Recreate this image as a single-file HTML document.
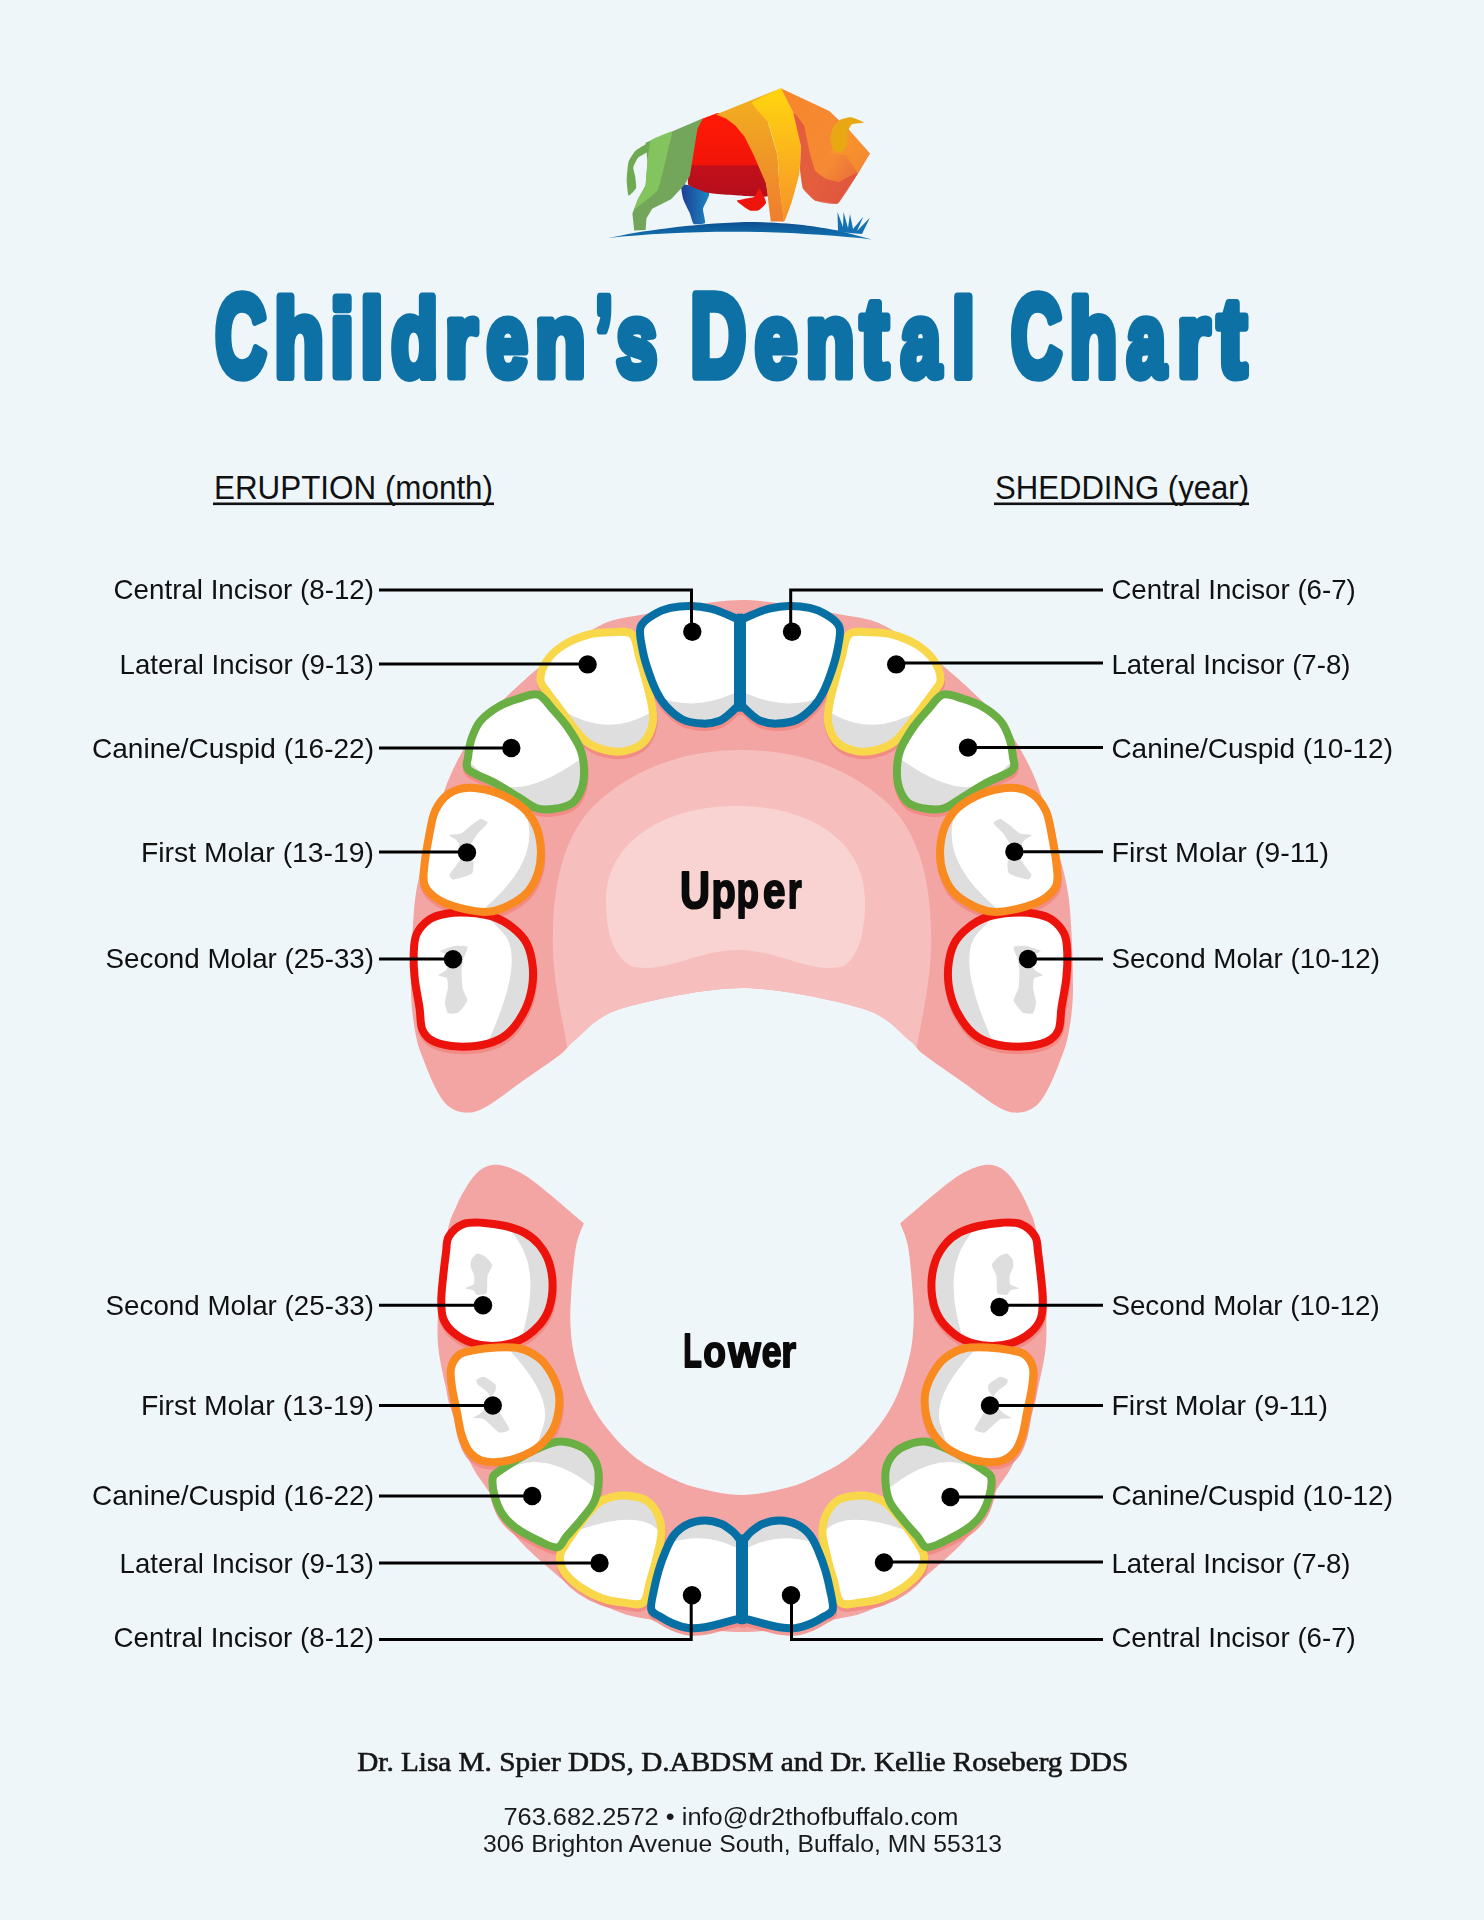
<!DOCTYPE html>
<html><head><meta charset="utf-8"><title>Children's Dental Chart</title>
<style>html,body{margin:0;padding:0;background:#EEF6FA;width:1484px;height:1920px;overflow:hidden}svg{display:block;font-family:"Liberation Sans",sans-serif}</style>
</head><body><svg width="1484" height="1920" viewBox="0 0 1484 1920">
<rect width="1484" height="1920" fill="#EEF6FA"/>
<defs><linearGradient id="gGreen" x1="0" y1="0" x2="1" y2="0"><stop offset="0" stop-color="#86C75E"/><stop offset="1" stop-color="#6E9E57"/></linearGradient><linearGradient id="gRed" x1="0" y1="0" x2="0" y2="1"><stop offset="0" stop-color="#FF1A05"/><stop offset="0.62" stop-color="#F2140A"/><stop offset="0.63" stop-color="#C2101A"/><stop offset="1" stop-color="#B50E1C"/></linearGradient><linearGradient id="gBand1" x1="0" y1="0" x2="0" y2="1"><stop offset="0" stop-color="#F2B21E"/><stop offset="1" stop-color="#EE7E2E"/></linearGradient><linearGradient id="gBand2" x1="0" y1="0" x2="0" y2="1"><stop offset="0" stop-color="#FFD60F"/><stop offset="1" stop-color="#F7922A"/></linearGradient><linearGradient id="gHead" x1="0" y1="0" x2="1" y2="1"><stop offset="0" stop-color="#F7862A"/><stop offset="0.6" stop-color="#F58A34"/><stop offset="1" stop-color="#E0553F"/></linearGradient><linearGradient id="gBlue" x1="0" y1="0" x2="1" y2="0"><stop offset="0" stop-color="#1D3F95"/><stop offset="1" stop-color="#1B86C2"/></linearGradient><linearGradient id="gGround" x1="0" y1="0" x2="0" y2="1"><stop offset="0" stop-color="#0D4F90"/><stop offset="1" stop-color="#1278B6"/></linearGradient></defs>
<path d="M682.0 184.0 C684.1 183.4 707.2 190.6 709.0 192.7 C710.8 194.8 703.3 206.3 703.0 208.8 C702.7 211.3 705.8 221.6 705.0 222.9 C704.2 224.2 695.0 224.7 693.7 223.9 C692.4 223.1 690.8 215.6 689.9 213.5 C689.0 211.4 684.0 201.8 683.3 199.3 C682.6 196.8 679.9 184.6 682.0 184.0Z" fill="url(#gBlue)" />
<path d="M700.0 120.0 C701.1 119.2 716.5 113.1 718.2 113.0 C720.0 112.9 733.3 116.9 735.0 118.0 C736.7 119.1 750.6 132.7 752.0 135.0 C753.4 137.3 761.2 161.9 762.0 165.0 C762.8 168.1 768.9 194.4 768.0 196.0 C767.1 197.6 748.0 196.2 745.0 196.0 C742.0 195.8 711.6 193.6 708.8 193.0 C705.9 192.4 688.8 186.3 688.0 184.2 C687.2 182.0 691.5 152.8 692.0 150.0 C692.5 147.2 696.6 129.5 697.0 128.0 C697.4 126.5 698.9 120.8 700.0 120.0Z" fill="url(#gRed)" />
<path d="M645.6 142.7 L703.1 118.2 L697.5 128.6 L693.7 152.2 L689.9 175.8 L684.2 185.2 L671.0 199.3 L652.2 208.8 L646.5 218.2 L645.6 230.0 L634.2 230.5 L632.4 213.5 L638.0 199.3 L645.6 185.2 L647.5 161.6 L645.6 144.6Z" fill="#73A55A" />
<path d="M651.0 140.5 C652.6 138.5 670.9 131.2 672.0 131.8 C673.1 132.4 668.4 148.0 668.0 150.0 C667.6 152.0 666.1 158.9 665.4 161.6 C664.7 164.3 659.5 187.0 657.8 189.9 C656.1 192.8 641.6 203.7 640.0 205.0 C638.4 206.3 634.1 210.4 634.0 210.0 C633.9 209.6 637.2 200.7 638.0 199.0 C638.8 197.3 645.0 187.7 645.6 185.2 C646.2 182.7 647.1 164.6 647.5 161.6 C647.9 158.6 649.4 142.5 651.0 140.5Z" fill="#84C45E" />
<path d="M649.0 142.7 C648.1 142.6 637.8 148.7 636.1 150.3 C634.4 151.9 629.4 159.1 628.6 161.6 C627.8 164.1 626.7 177.7 626.7 180.5 C626.7 183.3 627.8 195.0 628.6 195.6 C629.4 196.2 635.6 189.6 636.1 188.0 C636.6 186.4 635.4 178.4 635.2 176.7 C635.0 175.0 633.1 168.9 633.3 167.3 C633.5 165.7 636.9 159.1 638.0 157.8 C639.1 156.5 646.1 153.3 647.0 152.0 C647.9 150.7 649.9 142.8 649.0 142.7Z" fill="#6FAA50" />
<path d="M736.9 200.8 C737.3 199.7 752.0 198.0 753.9 197.0 C755.8 196.0 758.5 188.0 759.5 188.5 C760.5 189.0 766.2 200.8 766.1 202.6 C766.0 204.4 760.0 209.6 758.6 210.2 C757.2 210.8 751.0 211.0 749.2 210.2 C747.4 209.4 736.5 201.9 736.9 200.8Z" fill="#F0150C" />
<path d="M716.0 114.4 L780.3 88.5 L768.0 122.5 L777.5 155.5 L779.3 183.8 L784.1 221.5 L770.8 221.5 L766.1 183.8 L753.9 155.5 L744.4 136.6 L735.0 125.3 L726.0 118.5Z" fill="url(#gBand1)" />
<path d="M752.0 102.6 C752.6 100.9 778.8 89.2 780.3 88.5 C781.8 87.8 781.5 88.2 782.2 89.4 C782.9 90.6 792.6 110.2 793.5 113.0 C794.4 115.8 800.7 142.9 801.0 146.0 C801.3 149.1 799.7 171.5 799.2 174.3 C798.7 177.1 792.4 200.2 791.6 202.6 C790.8 205.0 784.7 222.4 784.1 221.5 C783.5 220.6 779.6 187.1 779.3 183.8 C779.0 180.5 778.1 158.6 777.5 155.5 C776.9 152.4 769.3 125.1 768.0 122.5 C766.7 119.9 751.4 104.3 752.0 102.6Z" fill="url(#gBand2)" />
<path d="M781.2 88.5 L829.3 111.1 L848.2 129.1 L869.9 153.6 L857.6 174.3 L837.8 203.6 L815.2 200.8 L802.9 188.5 L800.1 169.6 L801.0 146.0 L793.5 113.0Z" fill="url(#gHead)" />
<path d="M793.5 113.0 C793.3 114.4 800.6 142.3 801.0 146.0 C801.5 149.8 800.0 166.8 800.1 169.6 C800.2 172.5 801.9 186.4 802.9 188.5 C803.9 190.6 812.9 199.7 815.2 200.8 C817.5 201.8 835.0 205.4 837.8 203.6 C840.7 201.7 857.6 174.4 857.6 172.9 C857.7 171.5 841.0 181.5 838.8 181.9 C836.6 182.2 826.2 178.9 824.6 178.1 C823.1 177.4 816.2 172.3 815.2 170.6 C814.2 168.8 810.3 154.7 809.5 151.7 C808.8 148.7 804.9 127.9 803.9 125.3 C802.8 122.7 793.7 111.6 793.5 113.0Z" fill="#DD4F40" opacity="0.75"/>
<path d="M829.3 153.6 L848.2 129.1 L869.9 153.6 L857.6 173.4 L846.3 155.5Z" fill="#FA9A2A" opacity="0.6"/>
<path d="M830.3 138.5 C830.3 136.6 832.2 128.7 833.1 127.2 C834.0 125.6 839.2 120.4 840.7 119.6 C842.2 118.8 849.1 117.0 851.0 117.3 C853.0 117.5 863.7 121.9 863.8 122.5 C863.9 123.0 853.4 123.5 852.0 124.3 C850.6 125.2 847.7 131.1 847.3 132.8 C846.9 134.6 847.8 143.4 847.3 145.1 C846.7 146.7 841.8 152.2 840.7 152.6 C839.5 153.0 834.0 151.0 833.1 149.8 C832.2 148.6 830.3 140.4 830.3 138.5Z" fill="#E8A813" />
<path d="M608.8 238 C640 231 690 224 745 222 C790 222 820 227 840 231 L871.8 239.4 C840 236 800 233 760 232 C700 231 650 233.5 608.8 238Z" fill="url(#gGround)"/>
<path d="M838 232 L837.5 212 L843 227 L843.5 212 L848 228 L850 214 L853 229 L863.3 216.8 L857 231 L869.9 217.7 L862 234Z" fill="#1472B2"/>
<g><text transform="translate(215.35 376.25) scale(0.6189 1.0030)" font-family="Liberation Sans" font-weight="bold" font-size="114.3" fill="#0D71A6" stroke="#0D71A6" stroke-width="8" stroke-linejoin="round" vector-effect="non-scaling-stroke">C</text><text transform="translate(274.31 376.25) scale(0.7123 0.9496)" font-family="Liberation Sans" font-weight="bold" font-size="114.3" fill="#0D71A6" stroke="#0D71A6" stroke-width="8" stroke-linejoin="round" vector-effect="non-scaling-stroke">h</text><text transform="translate(329.89 376.25) scale(0.7652 0.9412)" font-family="Liberation Sans" font-weight="bold" font-size="114.3" fill="#0D71A6" stroke="#0D71A6" stroke-width="8" stroke-linejoin="round" vector-effect="non-scaling-stroke">i</text><text transform="translate(360.15 376.25) scale(0.7333 0.9496)" font-family="Liberation Sans" font-weight="bold" font-size="114.3" fill="#0D71A6" stroke="#0D71A6" stroke-width="8" stroke-linejoin="round" vector-effect="non-scaling-stroke">l</text><text transform="translate(391.37 376.25) scale(0.6684 0.9496)" font-family="Liberation Sans" font-weight="bold" font-size="114.3" fill="#0D71A6" stroke="#0D71A6" stroke-width="8" stroke-linejoin="round" vector-effect="non-scaling-stroke">d</text><text transform="translate(445.04 376.25) scale(0.7241 0.9024)" font-family="Liberation Sans" font-weight="bold" font-size="114.3" fill="#0D71A6" stroke="#0D71A6" stroke-width="8" stroke-linejoin="round" vector-effect="non-scaling-stroke">r</text><text transform="translate(486.63 376.25) scale(0.6432 0.9032)" font-family="Liberation Sans" font-weight="bold" font-size="114.3" fill="#0D71A6" stroke="#0D71A6" stroke-width="8" stroke-linejoin="round" vector-effect="non-scaling-stroke">e</text><text transform="translate(535.04 376.25) scale(0.7247 0.9024)" font-family="Liberation Sans" font-weight="bold" font-size="114.3" fill="#0D71A6" stroke="#0D71A6" stroke-width="8" stroke-linejoin="round" vector-effect="non-scaling-stroke">n</text><text transform="translate(595.20 376.25) scale(0.5542 0.9913)" font-family="Liberation Sans" font-weight="bold" font-size="114.3" fill="#0D71A6" stroke="#0D71A6" stroke-width="8" stroke-linejoin="round" vector-effect="non-scaling-stroke">&#8217;</text><text transform="translate(616.44 376.25) scale(0.6380 0.9024)" font-family="Liberation Sans" font-weight="bold" font-size="114.3" fill="#0D71A6" stroke="#0D71A6" stroke-width="8" stroke-linejoin="round" vector-effect="non-scaling-stroke">s</text><text transform="translate(690.32 376.25) scale(0.6776 1.0142)" font-family="Liberation Sans" font-weight="bold" font-size="114.3" fill="#0D71A6" stroke="#0D71A6" stroke-width="8" stroke-linejoin="round" vector-effect="non-scaling-stroke">D</text><text transform="translate(755.05 376.25) scale(0.6613 0.9032)" font-family="Liberation Sans" font-weight="bold" font-size="114.3" fill="#0D71A6" stroke="#0D71A6" stroke-width="8" stroke-linejoin="round" vector-effect="non-scaling-stroke">e</text><text transform="translate(805.74 376.25) scale(0.6975 0.9024)" font-family="Liberation Sans" font-weight="bold" font-size="114.3" fill="#0D71A6" stroke="#0D71A6" stroke-width="8" stroke-linejoin="round" vector-effect="non-scaling-stroke">n</text><text transform="translate(860.47 376.25) scale(0.7371 0.9784)" font-family="Liberation Sans" font-weight="bold" font-size="114.3" fill="#0D71A6" stroke="#0D71A6" stroke-width="8" stroke-linejoin="round" vector-effect="non-scaling-stroke">t</text><text transform="translate(900.91 376.25) scale(0.6235 0.9032)" font-family="Liberation Sans" font-weight="bold" font-size="114.3" fill="#0D71A6" stroke="#0D71A6" stroke-width="8" stroke-linejoin="round" vector-effect="non-scaling-stroke">a</text><text transform="translate(951.65 376.25) scale(0.7333 0.9496)" font-family="Liberation Sans" font-weight="bold" font-size="114.3" fill="#0D71A6" stroke="#0D71A6" stroke-width="8" stroke-linejoin="round" vector-effect="non-scaling-stroke">l</text><text transform="translate(1011.11 376.25) scale(0.6155 0.9993)" font-family="Liberation Sans" font-weight="bold" font-size="114.3" fill="#0D71A6" stroke="#0D71A6" stroke-width="8" stroke-linejoin="round" vector-effect="non-scaling-stroke">C</text><text transform="translate(1069.53 376.25) scale(0.6849 0.9496)" font-family="Liberation Sans" font-weight="bold" font-size="114.3" fill="#0D71A6" stroke="#0D71A6" stroke-width="8" stroke-linejoin="round" vector-effect="non-scaling-stroke">h</text><text transform="translate(1126.97 376.25) scale(0.6071 0.9032)" font-family="Liberation Sans" font-weight="bold" font-size="114.3" fill="#0D71A6" stroke="#0D71A6" stroke-width="8" stroke-linejoin="round" vector-effect="non-scaling-stroke">a</text><text transform="translate(1176.94 376.25) scale(0.7383 0.9024)" font-family="Liberation Sans" font-weight="bold" font-size="114.3" fill="#0D71A6" stroke="#0D71A6" stroke-width="8" stroke-linejoin="round" vector-effect="non-scaling-stroke">r</text><text transform="translate(1217.43 376.25) scale(0.7655 0.9784)" font-family="Liberation Sans" font-weight="bold" font-size="114.3" fill="#0D71A6" stroke="#0D71A6" stroke-width="8" stroke-linejoin="round" vector-effect="non-scaling-stroke">t</text></g>
<text x="214" y="499" font-family="Liberation Sans" font-size="33" font-weight="normal" fill="#111" text-anchor="start" textLength="279" lengthAdjust="spacingAndGlyphs" >ERUPTION (month)</text>
<rect x="213" y="502.5" width="281" height="2.6" fill="#111"/>
<text x="995" y="499" font-family="Liberation Sans" font-size="33" font-weight="normal" fill="#111" text-anchor="start" textLength="254" lengthAdjust="spacingAndGlyphs" >SHEDDING (year)</text>
<rect x="994" y="502.5" width="255" height="2.6" fill="#111"/>
<clipPath id="upclip"><path d="M742.0 600.0 C711.4 600.0 661.5 611.1 640.0 615.0 C618.5 618.9 613.7 618.5 599.0 626.0 C584.3 633.5 558.2 652.1 542.0 665.0 C525.8 677.9 502.1 700.5 491.0 712.0 C479.9 723.5 474.4 731.6 468.0 742.0 C461.6 752.4 453.9 766.3 448.0 781.0 C442.1 795.7 433.9 822.1 429.0 840.0 C424.1 857.9 417.7 877.5 415.0 900.0 C412.3 922.5 410.9 969.6 411.0 990.0 C411.1 1010.4 414.1 1025.3 416.0 1036.0 C417.9 1046.7 421.3 1053.7 424.0 1061.0 C426.7 1068.3 430.9 1078.7 434.0 1085.0 C437.1 1091.3 441.6 1099.1 445.0 1103.0 C448.4 1106.9 453.4 1109.6 457.0 1111.0 C460.6 1112.4 465.4 1112.8 469.0 1112.6 C472.6 1112.4 476.8 1111.3 481.0 1109.4 C485.2 1107.5 491.1 1103.7 497.0 1099.7 C502.9 1095.7 510.4 1089.9 520.0 1083.0 C529.6 1076.1 552.8 1060.5 561.0 1054.0 C569.2 1047.5 566.1 1046.8 575.0 1040.0 C583.9 1033.2 595.0 1016.8 620.0 1009.0 C645.0 1001.2 705.4 988.0 742.0 988.0 C778.6 988.0 839.0 1001.2 864.0 1009.0 C889.0 1016.8 900.1 1033.2 909.0 1040.0 C917.9 1046.8 914.8 1047.5 923.0 1054.0 C931.2 1060.5 954.4 1076.1 964.0 1083.0 C973.6 1089.9 981.1 1095.7 987.0 1099.7 C992.9 1103.7 998.8 1107.5 1003.0 1109.4 C1007.2 1111.3 1011.4 1112.4 1015.0 1112.6 C1018.6 1112.8 1023.4 1112.4 1027.0 1111.0 C1030.6 1109.6 1035.5 1106.9 1039.0 1103.0 C1042.5 1099.1 1046.8 1091.3 1050.0 1085.0 C1053.2 1078.7 1057.3 1068.3 1060.0 1061.0 C1062.7 1053.7 1066.0 1046.7 1068.0 1036.0 C1070.0 1025.3 1072.8 1010.4 1073.0 990.0 C1073.2 969.6 1071.7 922.5 1069.0 900.0 C1066.3 877.5 1060.0 857.9 1055.0 840.0 C1050.0 822.1 1041.8 795.7 1036.0 781.0 C1030.2 766.3 1022.5 752.4 1016.0 742.0 C1009.5 731.6 1004.1 723.5 993.0 712.0 C981.9 700.5 958.2 677.9 942.0 665.0 C925.8 652.1 899.7 633.5 885.0 626.0 C870.3 618.5 865.5 618.9 844.0 615.0 C822.5 611.1 772.6 600.0 742.0 600.0Z"/></clipPath>
<path d="M742.0 600.0 C711.4 600.0 661.5 611.1 640.0 615.0 C618.5 618.9 613.7 618.5 599.0 626.0 C584.3 633.5 558.2 652.1 542.0 665.0 C525.8 677.9 502.1 700.5 491.0 712.0 C479.9 723.5 474.4 731.6 468.0 742.0 C461.6 752.4 453.9 766.3 448.0 781.0 C442.1 795.7 433.9 822.1 429.0 840.0 C424.1 857.9 417.7 877.5 415.0 900.0 C412.3 922.5 410.9 969.6 411.0 990.0 C411.1 1010.4 414.1 1025.3 416.0 1036.0 C417.9 1046.7 421.3 1053.7 424.0 1061.0 C426.7 1068.3 430.9 1078.7 434.0 1085.0 C437.1 1091.3 441.6 1099.1 445.0 1103.0 C448.4 1106.9 453.4 1109.6 457.0 1111.0 C460.6 1112.4 465.4 1112.8 469.0 1112.6 C472.6 1112.4 476.8 1111.3 481.0 1109.4 C485.2 1107.5 491.1 1103.7 497.0 1099.7 C502.9 1095.7 510.4 1089.9 520.0 1083.0 C529.6 1076.1 552.8 1060.5 561.0 1054.0 C569.2 1047.5 566.1 1046.8 575.0 1040.0 C583.9 1033.2 595.0 1016.8 620.0 1009.0 C645.0 1001.2 705.4 988.0 742.0 988.0 C778.6 988.0 839.0 1001.2 864.0 1009.0 C889.0 1016.8 900.1 1033.2 909.0 1040.0 C917.9 1046.8 914.8 1047.5 923.0 1054.0 C931.2 1060.5 954.4 1076.1 964.0 1083.0 C973.6 1089.9 981.1 1095.7 987.0 1099.7 C992.9 1103.7 998.8 1107.5 1003.0 1109.4 C1007.2 1111.3 1011.4 1112.4 1015.0 1112.6 C1018.6 1112.8 1023.4 1112.4 1027.0 1111.0 C1030.6 1109.6 1035.5 1106.9 1039.0 1103.0 C1042.5 1099.1 1046.8 1091.3 1050.0 1085.0 C1053.2 1078.7 1057.3 1068.3 1060.0 1061.0 C1062.7 1053.7 1066.0 1046.7 1068.0 1036.0 C1070.0 1025.3 1072.8 1010.4 1073.0 990.0 C1073.2 969.6 1071.7 922.5 1069.0 900.0 C1066.3 877.5 1060.0 857.9 1055.0 840.0 C1050.0 822.1 1041.8 795.7 1036.0 781.0 C1030.2 766.3 1022.5 752.4 1016.0 742.0 C1009.5 731.6 1004.1 723.5 993.0 712.0 C981.9 700.5 958.2 677.9 942.0 665.0 C925.8 652.1 899.7 633.5 885.0 626.0 C870.3 618.5 865.5 618.9 844.0 615.0 C822.5 611.1 772.6 600.0 742.0 600.0Z" fill="#F3A5A3"/>
<g clip-path="url(#upclip)">
<path d="M575 1100 L566 1040 C555 985 552 960 553 930 C554 880 565 830 600 800 C640 765 690 750 742 750 C794 750 844 765 884 800 C919 830 930 880 931 930 C932 960 929 985 918 1040 L909 1100Z" fill="#F6BFBE"/>
</g>
<path d="M631 966 C612 955 606 930 606 900 C606 845 660 806 737 806 C815 806 865 845 865 900 C865 930 860 955 844 966 C810 975 780 950 738 950 C695 950 665 975 631 966 Z" fill="#F8D3D2"/>
<g opacity="0.8"><path d="M631.9 634.2 C636.8 638.4 637.1 649.9 639.4 657.7 C641.8 665.6 644.0 673.5 646.0 681.3 C648.1 689.2 650.6 697.8 651.7 704.9 C652.8 712.0 654.1 717.5 652.6 723.8 C651.2 730.1 647.9 738.1 643.2 742.6 C638.5 747.2 630.6 749.9 624.3 751.1 C618.1 752.4 611.8 751.8 605.5 750.2 C599.2 748.6 592.1 745.8 586.6 741.7 C581.1 737.6 577.2 731.5 572.5 725.7 C567.7 719.8 562.5 712.5 558.3 706.8 C554.1 701.1 550.0 696.3 547.0 691.7 C544.0 687.1 540.4 684.6 540.4 679.4 C540.4 674.2 543.2 666.2 547.0 660.6 C550.8 654.9 556.4 649.7 563.0 645.5 C569.6 641.2 578.7 637.3 586.6 635.1 C594.5 632.9 602.6 632.4 610.2 632.3 C617.7 632.1 627.0 629.9 631.9 634.2Z" fill="#F2857D" stroke="#F2857D" stroke-width="8" transform="translate(0.5 3.5)"/><path d="M640.5 627.3 C642.4 621.1 649.3 617.6 654.3 614.4 C659.2 611.2 664.2 609.4 670.4 607.9 C676.6 606.5 684.7 605.8 691.5 605.9 C698.2 606.1 704.9 607.3 710.9 608.7 C716.8 610.2 722.5 612.7 727.0 614.4 C731.6 616.2 736.2 618.4 738.0 619.3 C739.9 620.1 738.0 615.2 738.0 619.3 C738.0 623.3 738.0 634.1 738.0 643.5 C738.0 652.9 738.0 665.5 738.0 675.9 C738.0 686.2 738.0 700.8 738.0 705.8 C738.0 710.8 739.5 704.4 738.0 705.8 C736.6 707.1 732.6 711.3 729.5 713.9 C726.3 716.4 723.4 719.5 718.9 721.1 C714.5 722.8 708.8 723.8 702.8 723.6 C696.7 723.3 688.6 722.4 682.6 719.5 C676.5 716.7 670.7 711.2 666.4 706.6 C662.1 702.0 659.6 697.8 656.7 692.0 C653.7 686.2 650.9 678.6 648.6 671.8 C646.3 665.1 644.3 659.0 642.9 651.6 C641.6 644.2 638.6 633.5 640.5 627.3Z" fill="#F2857D" stroke="#F2857D" stroke-width="8" transform="translate(0.5 3.5)"/><path d="M538.1 694.7 C543.8 696.4 547.8 703.9 552.7 709.3 C557.6 714.7 562.8 720.4 567.4 726.9 C571.9 733.4 577.3 741.6 580.1 748.4 C582.8 755.2 583.7 761.4 584.0 767.9 C584.3 774.5 584.0 781.6 582.0 787.5 C580.1 793.3 577.1 799.5 572.3 803.1 C567.4 806.7 558.7 808.2 552.7 809.0 C546.7 809.8 541.8 810.0 536.1 808.0 C530.4 806.1 525.5 801.5 518.5 797.3 C511.5 793.0 502.4 787.2 494.1 782.6 C485.8 778.0 473.0 774.3 468.7 769.9 C464.4 765.5 467.7 761.4 468.2 756.2 C468.7 751.0 469.6 744.5 471.6 738.6 C473.6 732.8 475.8 726.4 480.4 721.0 C485.0 715.7 492.6 710.1 499.0 706.4 C505.3 702.6 512.0 700.5 518.5 698.6 C525.0 696.6 532.4 692.9 538.1 694.7Z" fill="#F2857D" stroke="#F2857D" stroke-width="8" transform="translate(0.5 3.5)"/><path d="M468.4 912.7 C476.2 913.2 485.5 914.2 492.8 916.6 C500.2 919.1 506.7 922.8 512.4 927.4 C518.1 931.9 523.6 937.1 527.0 944.0 C530.4 950.8 532.2 960.3 532.9 968.4 C533.5 976.5 532.7 985.0 530.9 992.8 C529.1 1000.6 526.1 1008.5 522.1 1015.3 C518.2 1022.1 513.2 1029.1 507.5 1033.9 C501.8 1038.6 496.1 1041.5 487.9 1043.6 C479.8 1045.8 467.6 1046.9 458.6 1046.6 C449.7 1046.2 440.2 1044.5 434.2 1041.7 C428.2 1038.9 424.9 1035.7 422.5 1030.0 C420.0 1024.3 420.8 1016.1 419.5 1007.5 C418.2 998.9 415.6 987.1 414.7 978.2 C413.7 969.2 413.4 961.1 413.7 953.7 C414.0 946.4 414.0 939.9 416.6 934.2 C419.2 928.5 424.4 923.0 429.3 919.5 C434.2 916.1 439.4 914.8 445.9 913.7 C452.4 912.5 460.6 912.2 468.4 912.7Z" fill="#F2857D" stroke="#F2857D" stroke-width="8" transform="translate(0.5 3.5)"/><path d="M468.6 787.7 C476.0 787.4 485.7 789.5 493.1 791.6 C500.4 793.7 506.9 797.0 512.6 800.4 C518.3 803.8 523.2 807.4 527.3 812.1 C531.3 816.9 534.7 822.2 537.0 828.7 C539.3 835.3 540.8 843.9 540.9 851.2 C541.1 858.5 540.3 865.9 538.0 872.7 C535.7 879.6 532.3 886.7 527.3 892.3 C522.2 897.8 514.2 902.7 507.7 905.9 C501.2 909.2 495.5 911.3 488.2 911.8 C480.8 912.3 471.9 910.8 463.7 908.9 C455.6 906.9 445.8 904.0 439.3 900.1 C432.8 896.2 427.1 891.6 424.7 885.4 C422.2 879.2 423.8 871.6 424.7 862.9 C425.5 854.3 427.8 842.4 429.5 833.6 C431.3 824.8 432.1 816.9 435.4 810.2 C438.7 803.5 443.5 797.3 449.1 793.6 C454.6 789.8 461.3 788.0 468.6 787.7Z" fill="#F2857D" stroke="#F2857D" stroke-width="8" transform="translate(0.5 3.5)"/><path d="M870.8 632.3 C878.4 632.4 886.5 632.9 894.4 635.1 C902.3 637.3 911.4 641.2 918.0 645.5 C924.6 649.7 930.2 654.9 934.0 660.6 C937.8 666.2 940.6 674.2 940.6 679.4 C940.6 684.6 937.0 687.1 934.0 691.7 C931.0 696.3 926.9 701.1 922.7 706.8 C918.5 712.5 913.3 719.8 908.5 725.7 C903.8 731.5 899.9 737.6 894.4 741.7 C888.9 745.8 881.8 748.6 875.5 750.2 C869.2 751.8 862.9 752.4 856.7 751.1 C850.4 749.9 842.5 747.2 837.8 742.6 C833.1 738.1 829.8 730.1 828.4 723.8 C826.9 717.5 828.2 712.0 829.3 704.9 C830.4 697.8 832.9 689.2 835.0 681.3 C837.0 673.5 839.2 665.6 841.6 657.7 C843.9 649.9 844.2 638.4 849.1 634.2 C854.0 629.9 863.3 632.1 870.8 632.3Z" fill="#F2857D" stroke="#F2857D" stroke-width="8" transform="translate(0.5 3.5)"/><path d="M837.1 651.6 C835.7 659.0 833.7 665.1 831.4 671.8 C829.1 678.6 826.3 686.2 823.3 692.0 C820.4 697.8 817.9 702.0 813.6 706.6 C809.3 711.2 803.5 716.7 797.4 719.5 C791.4 722.4 783.3 723.3 777.2 723.6 C771.2 723.8 765.5 722.8 761.1 721.1 C756.6 719.5 753.7 716.4 750.5 713.9 C747.4 711.3 743.4 707.1 742.0 705.8 C740.5 704.4 742.0 710.8 742.0 705.8 C742.0 700.8 742.0 686.2 742.0 675.9 C742.0 665.5 742.0 652.9 742.0 643.5 C742.0 634.1 742.0 623.3 742.0 619.3 C742.0 615.2 740.1 620.1 742.0 619.3 C743.8 618.4 748.4 616.2 753.0 614.4 C757.5 612.7 763.2 610.2 769.1 608.7 C775.1 607.3 781.8 606.1 788.5 605.9 C795.3 605.8 803.4 606.5 809.6 607.9 C815.8 609.4 820.8 611.2 825.7 614.4 C830.7 617.6 837.6 621.1 839.5 627.3 C841.4 633.5 838.4 644.2 837.1 651.6Z" fill="#F2857D" stroke="#F2857D" stroke-width="8" transform="translate(0.5 3.5)"/><path d="M962.5 698.6 C969.0 700.5 975.7 702.6 982.0 706.4 C988.4 710.1 996.0 715.7 1000.6 721.0 C1005.2 726.4 1007.4 732.8 1009.4 738.6 C1011.4 744.5 1012.3 751.0 1012.8 756.2 C1013.3 761.4 1016.6 765.5 1012.3 769.9 C1008.0 774.3 995.2 778.0 986.9 782.6 C978.6 787.2 969.5 793.0 962.5 797.3 C955.5 801.5 950.6 806.1 944.9 808.0 C939.2 810.0 934.3 809.8 928.3 809.0 C922.3 808.2 913.6 806.7 908.7 803.1 C903.9 799.5 900.9 793.3 899.0 787.5 C897.0 781.6 896.7 774.5 897.0 767.9 C897.3 761.4 898.2 755.2 900.9 748.4 C903.7 741.6 909.1 733.4 913.6 726.9 C918.2 720.4 923.4 714.7 928.3 709.3 C933.2 703.9 937.2 696.4 942.9 694.7 C948.6 692.9 956.0 696.6 962.5 698.6Z" fill="#F2857D" stroke="#F2857D" stroke-width="8" transform="translate(0.5 3.5)"/><path d="M1035.1 913.7 C1041.6 914.8 1046.8 916.1 1051.7 919.5 C1056.6 923.0 1061.8 928.5 1064.4 934.2 C1067.0 939.9 1067.0 946.4 1067.3 953.7 C1067.6 961.1 1067.3 969.2 1066.3 978.2 C1065.4 987.1 1062.8 998.9 1061.5 1007.5 C1060.2 1016.1 1061.0 1024.3 1058.5 1030.0 C1056.1 1035.7 1052.8 1038.9 1046.8 1041.7 C1040.8 1044.5 1031.3 1046.2 1022.4 1046.6 C1013.4 1046.9 1001.2 1045.8 993.1 1043.6 C984.9 1041.5 979.2 1038.6 973.5 1033.9 C967.8 1029.1 962.8 1022.1 958.9 1015.3 C954.9 1008.5 951.9 1000.6 950.1 992.8 C948.3 985.0 947.5 976.5 948.1 968.4 C948.8 960.3 950.6 950.8 954.0 944.0 C957.4 937.1 962.9 931.9 968.6 927.4 C974.3 922.8 980.8 919.1 988.2 916.6 C995.5 914.2 1004.8 913.2 1012.6 912.7 C1020.4 912.2 1028.6 912.5 1035.1 913.7Z" fill="#F2857D" stroke="#F2857D" stroke-width="8" transform="translate(0.5 3.5)"/><path d="M1031.9 793.6 C1037.5 797.3 1042.3 803.5 1045.6 810.2 C1048.9 816.9 1049.7 824.8 1051.5 833.6 C1053.2 842.4 1055.5 854.3 1056.3 862.9 C1057.2 871.6 1058.8 879.2 1056.3 885.4 C1053.9 891.6 1048.2 896.2 1041.7 900.1 C1035.2 904.0 1025.4 906.9 1017.3 908.9 C1009.1 910.8 1000.2 912.3 992.8 911.8 C985.5 911.3 979.8 909.2 973.3 905.9 C966.8 902.7 958.8 897.8 953.7 892.3 C948.7 886.7 945.3 879.6 943.0 872.7 C940.7 865.9 939.9 858.5 940.1 851.2 C940.2 843.9 941.7 835.3 944.0 828.7 C946.3 822.2 949.7 816.9 953.7 812.1 C957.8 807.4 962.7 803.8 968.4 800.4 C974.1 797.0 980.6 793.7 987.9 791.6 C995.3 789.5 1005.0 787.4 1012.4 787.7 C1019.7 788.0 1026.4 789.8 1031.9 793.6Z" fill="#F2857D" stroke="#F2857D" stroke-width="8" transform="translate(0.5 3.5)"/></g>
<clipPath id="c1"><path d="M631.9 634.2 C636.8 638.4 637.1 649.9 639.4 657.7 C641.8 665.6 644.0 673.5 646.0 681.3 C648.1 689.2 650.6 697.8 651.7 704.9 C652.8 712.0 654.1 717.5 652.6 723.8 C651.2 730.1 647.9 738.1 643.2 742.6 C638.5 747.2 630.6 749.9 624.3 751.1 C618.1 752.4 611.8 751.8 605.5 750.2 C599.2 748.6 592.1 745.8 586.6 741.7 C581.1 737.6 577.2 731.5 572.5 725.7 C567.7 719.8 562.5 712.5 558.3 706.8 C554.1 701.1 550.0 696.3 547.0 691.7 C544.0 687.1 540.4 684.6 540.4 679.4 C540.4 674.2 543.2 666.2 547.0 660.6 C550.8 654.9 556.4 649.7 563.0 645.5 C569.6 641.2 578.7 637.3 586.6 635.1 C594.5 632.9 602.6 632.4 610.2 632.3 C617.7 632.1 627.0 629.9 631.9 634.2Z"/></clipPath>
<path d="M631.9 634.2 C636.8 638.4 637.1 649.9 639.4 657.7 C641.8 665.6 644.0 673.5 646.0 681.3 C648.1 689.2 650.6 697.8 651.7 704.9 C652.8 712.0 654.1 717.5 652.6 723.8 C651.2 730.1 647.9 738.1 643.2 742.6 C638.5 747.2 630.6 749.9 624.3 751.1 C618.1 752.4 611.8 751.8 605.5 750.2 C599.2 748.6 592.1 745.8 586.6 741.7 C581.1 737.6 577.2 731.5 572.5 725.7 C567.7 719.8 562.5 712.5 558.3 706.8 C554.1 701.1 550.0 696.3 547.0 691.7 C544.0 687.1 540.4 684.6 540.4 679.4 C540.4 674.2 543.2 666.2 547.0 660.6 C550.8 654.9 556.4 649.7 563.0 645.5 C569.6 641.2 578.7 637.3 586.6 635.1 C594.5 632.9 602.6 632.4 610.2 632.3 C617.7 632.1 627.0 629.9 631.9 634.2Z" fill="#fff"/>
<g clip-path="url(#c1)">
<path d="M527.3 688.3 L561.1 709.6 Q606.0 737.9 648.9 713.4 L683.6 693.6 L683.6 793.6 L527.3 788.3 Z" fill="#DEDEDE"/>
</g>
<path d="M631.9 634.2 C636.8 638.4 637.1 649.9 639.4 657.7 C641.8 665.6 644.0 673.5 646.0 681.3 C648.1 689.2 650.6 697.8 651.7 704.9 C652.8 712.0 654.1 717.5 652.6 723.8 C651.2 730.1 647.9 738.1 643.2 742.6 C638.5 747.2 630.6 749.9 624.3 751.1 C618.1 752.4 611.8 751.8 605.5 750.2 C599.2 748.6 592.1 745.8 586.6 741.7 C581.1 737.6 577.2 731.5 572.5 725.7 C567.7 719.8 562.5 712.5 558.3 706.8 C554.1 701.1 550.0 696.3 547.0 691.7 C544.0 687.1 540.4 684.6 540.4 679.4 C540.4 674.2 543.2 666.2 547.0 660.6 C550.8 654.9 556.4 649.7 563.0 645.5 C569.6 641.2 578.7 637.3 586.6 635.1 C594.5 632.9 602.6 632.4 610.2 632.3 C617.7 632.1 627.0 629.9 631.9 634.2Z" fill="none" stroke="#F8D84A" stroke-width="8" stroke-linejoin="round"/>
<clipPath id="c2"><path d="M640.5 627.3 C642.4 621.1 649.3 617.6 654.3 614.4 C659.2 611.2 664.2 609.4 670.4 607.9 C676.6 606.5 684.7 605.8 691.5 605.9 C698.2 606.1 704.9 607.3 710.9 608.7 C716.8 610.2 722.5 612.7 727.0 614.4 C731.6 616.2 736.2 618.4 738.0 619.3 C739.9 620.1 738.0 615.2 738.0 619.3 C738.0 623.3 738.0 634.1 738.0 643.5 C738.0 652.9 738.0 665.5 738.0 675.9 C738.0 686.2 738.0 700.8 738.0 705.8 C738.0 710.8 739.5 704.4 738.0 705.8 C736.6 707.1 732.6 711.3 729.5 713.9 C726.3 716.4 723.4 719.5 718.9 721.1 C714.5 722.8 708.8 723.8 702.8 723.6 C696.7 723.3 688.6 722.4 682.6 719.5 C676.5 716.7 670.7 711.2 666.4 706.6 C662.1 702.0 659.6 697.8 656.7 692.0 C653.7 686.2 650.9 678.6 648.6 671.8 C646.3 665.1 644.3 659.0 642.9 651.6 C641.6 644.2 638.6 633.5 640.5 627.3Z"/></clipPath>
<path d="M640.5 627.3 C642.4 621.1 649.3 617.6 654.3 614.4 C659.2 611.2 664.2 609.4 670.4 607.9 C676.6 606.5 684.7 605.8 691.5 605.9 C698.2 606.1 704.9 607.3 710.9 608.7 C716.8 610.2 722.5 612.7 727.0 614.4 C731.6 616.2 736.2 618.4 738.0 619.3 C739.9 620.1 738.0 615.2 738.0 619.3 C738.0 623.3 738.0 634.1 738.0 643.5 C738.0 652.9 738.0 665.5 738.0 675.9 C738.0 686.2 738.0 700.8 738.0 705.8 C738.0 710.8 739.5 704.4 738.0 705.8 C736.6 707.1 732.6 711.3 729.5 713.9 C726.3 716.4 723.4 719.5 718.9 721.1 C714.5 722.8 708.8 723.8 702.8 723.6 C696.7 723.3 688.6 722.4 682.6 719.5 C676.5 716.7 670.7 711.2 666.4 706.6 C662.1 702.0 659.6 697.8 656.7 692.0 C653.7 686.2 650.9 678.6 648.6 671.8 C646.3 665.1 644.3 659.0 642.9 651.6 C641.6 644.2 638.6 633.5 640.5 627.3Z" fill="#fff"/>
<g clip-path="url(#c2)">
<path d="M624.1 685.7 L662.0 698.5 Q696.0 710.0 731.0 694.5 L767.6 678.3 L767.6 778.3 L624.1 785.7 Z" fill="#DEDEDE"/>
</g>
<path d="M640.5 627.3 C642.4 621.1 649.3 617.6 654.3 614.4 C659.2 611.2 664.2 609.4 670.4 607.9 C676.6 606.5 684.7 605.8 691.5 605.9 C698.2 606.1 704.9 607.3 710.9 608.7 C716.8 610.2 722.5 612.7 727.0 614.4 C731.6 616.2 736.2 618.4 738.0 619.3 C739.9 620.1 738.0 615.2 738.0 619.3 C738.0 623.3 738.0 634.1 738.0 643.5 C738.0 652.9 738.0 665.5 738.0 675.9 C738.0 686.2 738.0 700.8 738.0 705.8 C738.0 710.8 739.5 704.4 738.0 705.8 C736.6 707.1 732.6 711.3 729.5 713.9 C726.3 716.4 723.4 719.5 718.9 721.1 C714.5 722.8 708.8 723.8 702.8 723.6 C696.7 723.3 688.6 722.4 682.6 719.5 C676.5 716.7 670.7 711.2 666.4 706.6 C662.1 702.0 659.6 697.8 656.7 692.0 C653.7 686.2 650.9 678.6 648.6 671.8 C646.3 665.1 644.3 659.0 642.9 651.6 C641.6 644.2 638.6 633.5 640.5 627.3Z" fill="none" stroke="#0670A4" stroke-width="8" stroke-linejoin="round"/>
<clipPath id="c3"><path d="M538.1 694.7 C543.8 696.4 547.8 703.9 552.7 709.3 C557.6 714.7 562.8 720.4 567.4 726.9 C571.9 733.4 577.3 741.6 580.1 748.4 C582.8 755.2 583.7 761.4 584.0 767.9 C584.3 774.5 584.0 781.6 582.0 787.5 C580.1 793.3 577.1 799.5 572.3 803.1 C567.4 806.7 558.7 808.2 552.7 809.0 C546.7 809.8 541.8 810.0 536.1 808.0 C530.4 806.1 525.5 801.5 518.5 797.3 C511.5 793.0 502.4 787.2 494.1 782.6 C485.8 778.0 473.0 774.3 468.7 769.9 C464.4 765.5 467.7 761.4 468.2 756.2 C468.7 751.0 469.6 744.5 471.6 738.6 C473.6 732.8 475.8 726.4 480.4 721.0 C485.0 715.7 492.6 710.1 499.0 706.4 C505.3 702.6 512.0 700.5 518.5 698.6 C525.0 696.6 532.4 692.9 538.1 694.7Z"/></clipPath>
<path d="M538.1 694.7 C543.8 696.4 547.8 703.9 552.7 709.3 C557.6 714.7 562.8 720.4 567.4 726.9 C571.9 733.4 577.3 741.6 580.1 748.4 C582.8 755.2 583.7 761.4 584.0 767.9 C584.3 774.5 584.0 781.6 582.0 787.5 C580.1 793.3 577.1 799.5 572.3 803.1 C567.4 806.7 558.7 808.2 552.7 809.0 C546.7 809.8 541.8 810.0 536.1 808.0 C530.4 806.1 525.5 801.5 518.5 797.3 C511.5 793.0 502.4 787.2 494.1 782.6 C485.8 778.0 473.0 774.3 468.7 769.9 C464.4 765.5 467.7 761.4 468.2 756.2 C468.7 751.0 469.6 744.5 471.6 738.6 C473.6 732.8 475.8 726.4 480.4 721.0 C485.0 715.7 492.6 710.1 499.0 706.4 C505.3 702.6 512.0 700.5 518.5 698.6 C525.0 696.6 532.4 692.9 538.1 694.7Z" fill="#fff"/>
<g clip-path="url(#c3)">
<path d="M455.3 748.3 L484.3 775.8 Q515.1 805.0 579.1 760.1 L611.8 737.1 L611.8 837.1 L455.3 848.3 Z" fill="#DEDEDE"/>
</g>
<path d="M538.1 694.7 C543.8 696.4 547.8 703.9 552.7 709.3 C557.6 714.7 562.8 720.4 567.4 726.9 C571.9 733.4 577.3 741.6 580.1 748.4 C582.8 755.2 583.7 761.4 584.0 767.9 C584.3 774.5 584.0 781.6 582.0 787.5 C580.1 793.3 577.1 799.5 572.3 803.1 C567.4 806.7 558.7 808.2 552.7 809.0 C546.7 809.8 541.8 810.0 536.1 808.0 C530.4 806.1 525.5 801.5 518.5 797.3 C511.5 793.0 502.4 787.2 494.1 782.6 C485.8 778.0 473.0 774.3 468.7 769.9 C464.4 765.5 467.7 761.4 468.2 756.2 C468.7 751.0 469.6 744.5 471.6 738.6 C473.6 732.8 475.8 726.4 480.4 721.0 C485.0 715.7 492.6 710.1 499.0 706.4 C505.3 702.6 512.0 700.5 518.5 698.6 C525.0 696.6 532.4 692.9 538.1 694.7Z" fill="none" stroke="#6AAF44" stroke-width="8" stroke-linejoin="round"/>
<clipPath id="c4"><path d="M468.4 912.7 C476.2 913.2 485.5 914.2 492.8 916.6 C500.2 919.1 506.7 922.8 512.4 927.4 C518.1 931.9 523.6 937.1 527.0 944.0 C530.4 950.8 532.2 960.3 532.9 968.4 C533.5 976.5 532.7 985.0 530.9 992.8 C529.1 1000.6 526.1 1008.5 522.1 1015.3 C518.2 1022.1 513.2 1029.1 507.5 1033.9 C501.8 1038.6 496.1 1041.5 487.9 1043.6 C479.8 1045.8 467.6 1046.9 458.6 1046.6 C449.7 1046.2 440.2 1044.5 434.2 1041.7 C428.2 1038.9 424.9 1035.7 422.5 1030.0 C420.0 1024.3 420.8 1016.1 419.5 1007.5 C418.2 998.9 415.6 987.1 414.7 978.2 C413.7 969.2 413.4 961.1 413.7 953.7 C414.0 946.4 414.0 939.9 416.6 934.2 C419.2 928.5 424.4 923.0 429.3 919.5 C434.2 916.1 439.4 914.8 445.9 913.7 C452.4 912.5 460.6 912.2 468.4 912.7Z"/></clipPath>
<path d="M468.4 912.7 C476.2 913.2 485.5 914.2 492.8 916.6 C500.2 919.1 506.7 922.8 512.4 927.4 C518.1 931.9 523.6 937.1 527.0 944.0 C530.4 950.8 532.2 960.3 532.9 968.4 C533.5 976.5 532.7 985.0 530.9 992.8 C529.1 1000.6 526.1 1008.5 522.1 1015.3 C518.2 1022.1 513.2 1029.1 507.5 1033.9 C501.8 1038.6 496.1 1041.5 487.9 1043.6 C479.8 1045.8 467.6 1046.9 458.6 1046.6 C449.7 1046.2 440.2 1044.5 434.2 1041.7 C428.2 1038.9 424.9 1035.7 422.5 1030.0 C420.0 1024.3 420.8 1016.1 419.5 1007.5 C418.2 998.9 415.6 987.1 414.7 978.2 C413.7 969.2 413.4 961.1 413.7 953.7 C414.0 946.4 414.0 939.9 416.6 934.2 C419.2 928.5 424.4 923.0 429.3 919.5 C434.2 916.1 439.4 914.8 445.9 913.7 C452.4 912.5 460.6 912.2 468.4 912.7Z" fill="#fff"/>
<g clip-path="url(#c4)">
<path d="M474.7 903.5 L502.6 932.2 Q525.0 955.2 492.8 1030.9 L477.1 1067.7 L577.1 1067.7 L574.7 903.5 Z" fill="#DEDEDE"/>
<path d="M440.1 950.8 C440.8 950.1 452.4 946.3 454.7 945.9 C457.0 945.6 466.7 945.8 467.4 946.9 C468.2 948.0 464.0 956.7 463.5 958.6 C463.0 960.6 461.6 967.9 461.6 970.4 C461.5 972.8 462.0 985.4 462.5 987.9 C463.0 990.5 467.7 998.6 467.4 1000.6 C467.1 1002.7 460.3 1011.3 458.6 1012.4 C457.0 1013.4 449.0 1014.2 447.9 1013.3 C446.7 1012.5 444.9 1004.7 444.9 1002.6 C444.9 1000.5 447.7 990.0 447.9 987.9 C448.0 985.9 447.7 979.2 446.9 978.2 C446.1 977.1 438.2 975.9 438.1 975.2 C438.0 974.6 445.0 971.3 445.9 970.4 C446.8 969.4 448.9 964.8 448.9 963.5 C448.9 962.2 446.7 955.8 445.9 954.7 C445.2 953.7 439.3 951.5 440.1 950.8Z" fill="#DEDEDE"/>
</g>
<path d="M468.4 912.7 C476.2 913.2 485.5 914.2 492.8 916.6 C500.2 919.1 506.7 922.8 512.4 927.4 C518.1 931.9 523.6 937.1 527.0 944.0 C530.4 950.8 532.2 960.3 532.9 968.4 C533.5 976.5 532.7 985.0 530.9 992.8 C529.1 1000.6 526.1 1008.5 522.1 1015.3 C518.2 1022.1 513.2 1029.1 507.5 1033.9 C501.8 1038.6 496.1 1041.5 487.9 1043.6 C479.8 1045.8 467.6 1046.9 458.6 1046.6 C449.7 1046.2 440.2 1044.5 434.2 1041.7 C428.2 1038.9 424.9 1035.7 422.5 1030.0 C420.0 1024.3 420.8 1016.1 419.5 1007.5 C418.2 998.9 415.6 987.1 414.7 978.2 C413.7 969.2 413.4 961.1 413.7 953.7 C414.0 946.4 414.0 939.9 416.6 934.2 C419.2 928.5 424.4 923.0 429.3 919.5 C434.2 916.1 439.4 914.8 445.9 913.7 C452.4 912.5 460.6 912.2 468.4 912.7Z" fill="none" stroke="#EC130D" stroke-width="8" stroke-linejoin="round"/>
<clipPath id="c5"><path d="M468.6 787.7 C476.0 787.4 485.7 789.5 493.1 791.6 C500.4 793.7 506.9 797.0 512.6 800.4 C518.3 803.8 523.2 807.4 527.3 812.1 C531.3 816.9 534.7 822.2 537.0 828.7 C539.3 835.3 540.8 843.9 540.9 851.2 C541.1 858.5 540.3 865.9 538.0 872.7 C535.7 879.6 532.3 886.7 527.3 892.3 C522.2 897.8 514.2 902.7 507.7 905.9 C501.2 909.2 495.5 911.3 488.2 911.8 C480.8 912.3 471.9 910.8 463.7 908.9 C455.6 906.9 445.8 904.0 439.3 900.1 C432.8 896.2 427.1 891.6 424.7 885.4 C422.2 879.2 423.8 871.6 424.7 862.9 C425.5 854.3 427.8 842.4 429.5 833.6 C431.3 824.8 432.1 816.9 435.4 810.2 C438.7 803.5 443.5 797.3 449.1 793.6 C454.6 789.8 461.3 788.0 468.6 787.7Z"/></clipPath>
<path d="M468.6 787.7 C476.0 787.4 485.7 789.5 493.1 791.6 C500.4 793.7 506.9 797.0 512.6 800.4 C518.3 803.8 523.2 807.4 527.3 812.1 C531.3 816.9 534.7 822.2 537.0 828.7 C539.3 835.3 540.8 843.9 540.9 851.2 C541.1 858.5 540.3 865.9 538.0 872.7 C535.7 879.6 532.3 886.7 527.3 892.3 C522.2 897.8 514.2 902.7 507.7 905.9 C501.2 909.2 495.5 911.3 488.2 911.8 C480.8 912.3 471.9 910.8 463.7 908.9 C455.6 906.9 445.8 904.0 439.3 900.1 C432.8 896.2 427.1 891.6 424.7 885.4 C422.2 879.2 423.8 871.6 424.7 862.9 C425.5 854.3 427.8 842.4 429.5 833.6 C431.3 824.8 432.1 816.9 435.4 810.2 C438.7 803.5 443.5 797.3 449.1 793.6 C454.6 789.8 461.3 788.0 468.6 787.7Z" fill="#fff"/>
<g clip-path="url(#c5)">
<path d="M520.2 782.7 L528.2 821.9 Q536.5 862.5 488.2 905.0 L458.2 931.4 L558.2 961.4 L620.2 812.7 Z" fill="#DEDEDE"/>
<path d="M480.4 819.0 C481.8 818.7 487.8 821.7 487.7 822.9 C487.5 824.0 479.7 831.1 478.4 832.7 C477.1 834.2 473.4 840.1 472.5 841.4 C471.7 842.8 468.5 847.5 468.6 849.3 C468.7 851.1 473.2 861.0 473.5 862.9 C473.8 864.9 473.3 871.6 472.5 872.7 C471.8 873.9 466.3 876.1 464.7 876.6 C463.1 877.2 454.3 879.7 453.0 879.6 C451.7 879.4 449.3 875.8 449.6 874.7 C449.8 873.5 455.0 867.3 455.9 865.9 C456.9 864.5 460.6 859.9 460.8 858.1 C461.1 856.2 459.3 844.9 458.9 843.4 C458.4 841.9 456.7 840.2 455.9 839.5 C455.1 838.8 448.7 835.6 449.1 835.1 C449.5 834.6 459.0 834.4 460.8 833.6 C462.6 832.9 469.0 827.0 470.6 825.8 C472.2 824.6 478.9 819.2 480.4 819.0Z" fill="#DEDEDE"/>
</g>
<path d="M468.6 787.7 C476.0 787.4 485.7 789.5 493.1 791.6 C500.4 793.7 506.9 797.0 512.6 800.4 C518.3 803.8 523.2 807.4 527.3 812.1 C531.3 816.9 534.7 822.2 537.0 828.7 C539.3 835.3 540.8 843.9 540.9 851.2 C541.1 858.5 540.3 865.9 538.0 872.7 C535.7 879.6 532.3 886.7 527.3 892.3 C522.2 897.8 514.2 902.7 507.7 905.9 C501.2 909.2 495.5 911.3 488.2 911.8 C480.8 912.3 471.9 910.8 463.7 908.9 C455.6 906.9 445.8 904.0 439.3 900.1 C432.8 896.2 427.1 891.6 424.7 885.4 C422.2 879.2 423.8 871.6 424.7 862.9 C425.5 854.3 427.8 842.4 429.5 833.6 C431.3 824.8 432.1 816.9 435.4 810.2 C438.7 803.5 443.5 797.3 449.1 793.6 C454.6 789.8 461.3 788.0 468.6 787.7Z" fill="none" stroke="#F88A1F" stroke-width="8" stroke-linejoin="round"/>
<clipPath id="c6"><path d="M870.8 632.3 C878.4 632.4 886.5 632.9 894.4 635.1 C902.3 637.3 911.4 641.2 918.0 645.5 C924.6 649.7 930.2 654.9 934.0 660.6 C937.8 666.2 940.6 674.2 940.6 679.4 C940.6 684.6 937.0 687.1 934.0 691.7 C931.0 696.3 926.9 701.1 922.7 706.8 C918.5 712.5 913.3 719.8 908.5 725.7 C903.8 731.5 899.9 737.6 894.4 741.7 C888.9 745.8 881.8 748.6 875.5 750.2 C869.2 751.8 862.9 752.4 856.7 751.1 C850.4 749.9 842.5 747.2 837.8 742.6 C833.1 738.1 829.8 730.1 828.4 723.8 C826.9 717.5 828.2 712.0 829.3 704.9 C830.4 697.8 832.9 689.2 835.0 681.3 C837.0 673.5 839.2 665.6 841.6 657.7 C843.9 649.9 844.2 638.4 849.1 634.2 C854.0 629.9 863.3 632.1 870.8 632.3Z"/></clipPath>
<path d="M870.8 632.3 C878.4 632.4 886.5 632.9 894.4 635.1 C902.3 637.3 911.4 641.2 918.0 645.5 C924.6 649.7 930.2 654.9 934.0 660.6 C937.8 666.2 940.6 674.2 940.6 679.4 C940.6 684.6 937.0 687.1 934.0 691.7 C931.0 696.3 926.9 701.1 922.7 706.8 C918.5 712.5 913.3 719.8 908.5 725.7 C903.8 731.5 899.9 737.6 894.4 741.7 C888.9 745.8 881.8 748.6 875.5 750.2 C869.2 751.8 862.9 752.4 856.7 751.1 C850.4 749.9 842.5 747.2 837.8 742.6 C833.1 738.1 829.8 730.1 828.4 723.8 C826.9 717.5 828.2 712.0 829.3 704.9 C830.4 697.8 832.9 689.2 835.0 681.3 C837.0 673.5 839.2 665.6 841.6 657.7 C843.9 649.9 844.2 638.4 849.1 634.2 C854.0 629.9 863.3 632.1 870.8 632.3Z" fill="#fff"/>
<g clip-path="url(#c6)">
<path d="M797.4 693.6 L832.1 713.4 Q875.0 737.9 919.9 709.6 L953.7 688.3 L953.7 788.3 L797.4 793.6 Z" fill="#DEDEDE"/>
</g>
<path d="M870.8 632.3 C878.4 632.4 886.5 632.9 894.4 635.1 C902.3 637.3 911.4 641.2 918.0 645.5 C924.6 649.7 930.2 654.9 934.0 660.6 C937.8 666.2 940.6 674.2 940.6 679.4 C940.6 684.6 937.0 687.1 934.0 691.7 C931.0 696.3 926.9 701.1 922.7 706.8 C918.5 712.5 913.3 719.8 908.5 725.7 C903.8 731.5 899.9 737.6 894.4 741.7 C888.9 745.8 881.8 748.6 875.5 750.2 C869.2 751.8 862.9 752.4 856.7 751.1 C850.4 749.9 842.5 747.2 837.8 742.6 C833.1 738.1 829.8 730.1 828.4 723.8 C826.9 717.5 828.2 712.0 829.3 704.9 C830.4 697.8 832.9 689.2 835.0 681.3 C837.0 673.5 839.2 665.6 841.6 657.7 C843.9 649.9 844.2 638.4 849.1 634.2 C854.0 629.9 863.3 632.1 870.8 632.3Z" fill="none" stroke="#F8D84A" stroke-width="8" stroke-linejoin="round"/>
<clipPath id="c7"><path d="M837.1 651.6 C835.7 659.0 833.7 665.1 831.4 671.8 C829.1 678.6 826.3 686.2 823.3 692.0 C820.4 697.8 817.9 702.0 813.6 706.6 C809.3 711.2 803.5 716.7 797.4 719.5 C791.4 722.4 783.3 723.3 777.2 723.6 C771.2 723.8 765.5 722.8 761.1 721.1 C756.6 719.5 753.7 716.4 750.5 713.9 C747.4 711.3 743.4 707.1 742.0 705.8 C740.5 704.4 742.0 710.8 742.0 705.8 C742.0 700.8 742.0 686.2 742.0 675.9 C742.0 665.5 742.0 652.9 742.0 643.5 C742.0 634.1 742.0 623.3 742.0 619.3 C742.0 615.2 740.1 620.1 742.0 619.3 C743.8 618.4 748.4 616.2 753.0 614.4 C757.5 612.7 763.2 610.2 769.1 608.7 C775.1 607.3 781.8 606.1 788.5 605.9 C795.3 605.8 803.4 606.5 809.6 607.9 C815.8 609.4 820.8 611.2 825.7 614.4 C830.7 617.6 837.6 621.1 839.5 627.3 C841.4 633.5 838.4 644.2 837.1 651.6Z"/></clipPath>
<path d="M837.1 651.6 C835.7 659.0 833.7 665.1 831.4 671.8 C829.1 678.6 826.3 686.2 823.3 692.0 C820.4 697.8 817.9 702.0 813.6 706.6 C809.3 711.2 803.5 716.7 797.4 719.5 C791.4 722.4 783.3 723.3 777.2 723.6 C771.2 723.8 765.5 722.8 761.1 721.1 C756.6 719.5 753.7 716.4 750.5 713.9 C747.4 711.3 743.4 707.1 742.0 705.8 C740.5 704.4 742.0 710.8 742.0 705.8 C742.0 700.8 742.0 686.2 742.0 675.9 C742.0 665.5 742.0 652.9 742.0 643.5 C742.0 634.1 742.0 623.3 742.0 619.3 C742.0 615.2 740.1 620.1 742.0 619.3 C743.8 618.4 748.4 616.2 753.0 614.4 C757.5 612.7 763.2 610.2 769.1 608.7 C775.1 607.3 781.8 606.1 788.5 605.9 C795.3 605.8 803.4 606.5 809.6 607.9 C815.8 609.4 820.8 611.2 825.7 614.4 C830.7 617.6 837.6 621.1 839.5 627.3 C841.4 633.5 838.4 644.2 837.1 651.6Z" fill="#fff"/>
<g clip-path="url(#c7)">
<path d="M712.4 678.3 L749.0 694.5 Q784.0 710.0 818.0 698.5 L855.9 685.7 L855.9 785.7 L712.4 778.3 Z" fill="#DEDEDE"/>
</g>
<path d="M837.1 651.6 C835.7 659.0 833.7 665.1 831.4 671.8 C829.1 678.6 826.3 686.2 823.3 692.0 C820.4 697.8 817.9 702.0 813.6 706.6 C809.3 711.2 803.5 716.7 797.4 719.5 C791.4 722.4 783.3 723.3 777.2 723.6 C771.2 723.8 765.5 722.8 761.1 721.1 C756.6 719.5 753.7 716.4 750.5 713.9 C747.4 711.3 743.4 707.1 742.0 705.8 C740.5 704.4 742.0 710.8 742.0 705.8 C742.0 700.8 742.0 686.2 742.0 675.9 C742.0 665.5 742.0 652.9 742.0 643.5 C742.0 634.1 742.0 623.3 742.0 619.3 C742.0 615.2 740.1 620.1 742.0 619.3 C743.8 618.4 748.4 616.2 753.0 614.4 C757.5 612.7 763.2 610.2 769.1 608.7 C775.1 607.3 781.8 606.1 788.5 605.9 C795.3 605.8 803.4 606.5 809.6 607.9 C815.8 609.4 820.8 611.2 825.7 614.4 C830.7 617.6 837.6 621.1 839.5 627.3 C841.4 633.5 838.4 644.2 837.1 651.6Z" fill="none" stroke="#0670A4" stroke-width="8" stroke-linejoin="round"/>
<clipPath id="c8"><path d="M962.5 698.6 C969.0 700.5 975.7 702.6 982.0 706.4 C988.4 710.1 996.0 715.7 1000.6 721.0 C1005.2 726.4 1007.4 732.8 1009.4 738.6 C1011.4 744.5 1012.3 751.0 1012.8 756.2 C1013.3 761.4 1016.6 765.5 1012.3 769.9 C1008.0 774.3 995.2 778.0 986.9 782.6 C978.6 787.2 969.5 793.0 962.5 797.3 C955.5 801.5 950.6 806.1 944.9 808.0 C939.2 810.0 934.3 809.8 928.3 809.0 C922.3 808.2 913.6 806.7 908.7 803.1 C903.9 799.5 900.9 793.3 899.0 787.5 C897.0 781.6 896.7 774.5 897.0 767.9 C897.3 761.4 898.2 755.2 900.9 748.4 C903.7 741.6 909.1 733.4 913.6 726.9 C918.2 720.4 923.4 714.7 928.3 709.3 C933.2 703.9 937.2 696.4 942.9 694.7 C948.6 692.9 956.0 696.6 962.5 698.6Z"/></clipPath>
<path d="M962.5 698.6 C969.0 700.5 975.7 702.6 982.0 706.4 C988.4 710.1 996.0 715.7 1000.6 721.0 C1005.2 726.4 1007.4 732.8 1009.4 738.6 C1011.4 744.5 1012.3 751.0 1012.8 756.2 C1013.3 761.4 1016.6 765.5 1012.3 769.9 C1008.0 774.3 995.2 778.0 986.9 782.6 C978.6 787.2 969.5 793.0 962.5 797.3 C955.5 801.5 950.6 806.1 944.9 808.0 C939.2 810.0 934.3 809.8 928.3 809.0 C922.3 808.2 913.6 806.7 908.7 803.1 C903.9 799.5 900.9 793.3 899.0 787.5 C897.0 781.6 896.7 774.5 897.0 767.9 C897.3 761.4 898.2 755.2 900.9 748.4 C903.7 741.6 909.1 733.4 913.6 726.9 C918.2 720.4 923.4 714.7 928.3 709.3 C933.2 703.9 937.2 696.4 942.9 694.7 C948.6 692.9 956.0 696.6 962.5 698.6Z" fill="#fff"/>
<g clip-path="url(#c8)">
<path d="M869.2 737.1 L901.9 760.1 Q965.9 805.0 996.7 775.8 L1025.7 748.3 L1025.7 848.3 L869.2 837.1 Z" fill="#DEDEDE"/>
</g>
<path d="M962.5 698.6 C969.0 700.5 975.7 702.6 982.0 706.4 C988.4 710.1 996.0 715.7 1000.6 721.0 C1005.2 726.4 1007.4 732.8 1009.4 738.6 C1011.4 744.5 1012.3 751.0 1012.8 756.2 C1013.3 761.4 1016.6 765.5 1012.3 769.9 C1008.0 774.3 995.2 778.0 986.9 782.6 C978.6 787.2 969.5 793.0 962.5 797.3 C955.5 801.5 950.6 806.1 944.9 808.0 C939.2 810.0 934.3 809.8 928.3 809.0 C922.3 808.2 913.6 806.7 908.7 803.1 C903.9 799.5 900.9 793.3 899.0 787.5 C897.0 781.6 896.7 774.5 897.0 767.9 C897.3 761.4 898.2 755.2 900.9 748.4 C903.7 741.6 909.1 733.4 913.6 726.9 C918.2 720.4 923.4 714.7 928.3 709.3 C933.2 703.9 937.2 696.4 942.9 694.7 C948.6 692.9 956.0 696.6 962.5 698.6Z" fill="none" stroke="#6AAF44" stroke-width="8" stroke-linejoin="round"/>
<clipPath id="c9"><path d="M1035.1 913.7 C1041.6 914.8 1046.8 916.1 1051.7 919.5 C1056.6 923.0 1061.8 928.5 1064.4 934.2 C1067.0 939.9 1067.0 946.4 1067.3 953.7 C1067.6 961.1 1067.3 969.2 1066.3 978.2 C1065.4 987.1 1062.8 998.9 1061.5 1007.5 C1060.2 1016.1 1061.0 1024.3 1058.5 1030.0 C1056.1 1035.7 1052.8 1038.9 1046.8 1041.7 C1040.8 1044.5 1031.3 1046.2 1022.4 1046.6 C1013.4 1046.9 1001.2 1045.8 993.1 1043.6 C984.9 1041.5 979.2 1038.6 973.5 1033.9 C967.8 1029.1 962.8 1022.1 958.9 1015.3 C954.9 1008.5 951.9 1000.6 950.1 992.8 C948.3 985.0 947.5 976.5 948.1 968.4 C948.8 960.3 950.6 950.8 954.0 944.0 C957.4 937.1 962.9 931.9 968.6 927.4 C974.3 922.8 980.8 919.1 988.2 916.6 C995.5 914.2 1004.8 913.2 1012.6 912.7 C1020.4 912.2 1028.6 912.5 1035.1 913.7Z"/></clipPath>
<path d="M1035.1 913.7 C1041.6 914.8 1046.8 916.1 1051.7 919.5 C1056.6 923.0 1061.8 928.5 1064.4 934.2 C1067.0 939.9 1067.0 946.4 1067.3 953.7 C1067.6 961.1 1067.3 969.2 1066.3 978.2 C1065.4 987.1 1062.8 998.9 1061.5 1007.5 C1060.2 1016.1 1061.0 1024.3 1058.5 1030.0 C1056.1 1035.7 1052.8 1038.9 1046.8 1041.7 C1040.8 1044.5 1031.3 1046.2 1022.4 1046.6 C1013.4 1046.9 1001.2 1045.8 993.1 1043.6 C984.9 1041.5 979.2 1038.6 973.5 1033.9 C967.8 1029.1 962.8 1022.1 958.9 1015.3 C954.9 1008.5 951.9 1000.6 950.1 992.8 C948.3 985.0 947.5 976.5 948.1 968.4 C948.8 960.3 950.6 950.8 954.0 944.0 C957.4 937.1 962.9 931.9 968.6 927.4 C974.3 922.8 980.8 919.1 988.2 916.6 C995.5 914.2 1004.8 913.2 1012.6 912.7 C1020.4 912.2 1028.6 912.5 1035.1 913.7Z" fill="#fff"/>
<g clip-path="url(#c9)">
<path d="M1003.9 1067.7 L988.2 1030.9 Q956.0 955.2 978.4 932.2 L1006.3 903.5 L906.3 903.5 L903.9 1067.7 Z" fill="#DEDEDE"/>
<path d="M1035.1 954.7 C1034.3 955.8 1032.1 962.2 1032.1 963.5 C1032.1 964.8 1034.2 969.4 1035.1 970.4 C1036.0 971.3 1043.0 974.6 1042.9 975.2 C1042.8 975.9 1034.9 977.1 1034.1 978.2 C1033.3 979.2 1033.0 985.9 1033.1 987.9 C1033.3 990.0 1036.1 1000.5 1036.1 1002.6 C1036.1 1004.7 1034.3 1012.5 1033.1 1013.3 C1032.0 1014.2 1024.0 1013.4 1022.4 1012.4 C1020.7 1011.3 1013.9 1002.7 1013.6 1000.6 C1013.3 998.6 1018.0 990.5 1018.5 987.9 C1019.0 985.4 1019.5 972.8 1019.4 970.4 C1019.4 967.9 1018.0 960.6 1017.5 958.6 C1017.0 956.7 1012.8 948.0 1013.6 946.9 C1014.3 945.8 1024.0 945.6 1026.3 945.9 C1028.6 946.3 1040.2 950.1 1040.9 950.8 C1041.7 951.5 1035.8 953.7 1035.1 954.7Z" fill="#DEDEDE"/>
</g>
<path d="M1035.1 913.7 C1041.6 914.8 1046.8 916.1 1051.7 919.5 C1056.6 923.0 1061.8 928.5 1064.4 934.2 C1067.0 939.9 1067.0 946.4 1067.3 953.7 C1067.6 961.1 1067.3 969.2 1066.3 978.2 C1065.4 987.1 1062.8 998.9 1061.5 1007.5 C1060.2 1016.1 1061.0 1024.3 1058.5 1030.0 C1056.1 1035.7 1052.8 1038.9 1046.8 1041.7 C1040.8 1044.5 1031.3 1046.2 1022.4 1046.6 C1013.4 1046.9 1001.2 1045.8 993.1 1043.6 C984.9 1041.5 979.2 1038.6 973.5 1033.9 C967.8 1029.1 962.8 1022.1 958.9 1015.3 C954.9 1008.5 951.9 1000.6 950.1 992.8 C948.3 985.0 947.5 976.5 948.1 968.4 C948.8 960.3 950.6 950.8 954.0 944.0 C957.4 937.1 962.9 931.9 968.6 927.4 C974.3 922.8 980.8 919.1 988.2 916.6 C995.5 914.2 1004.8 913.2 1012.6 912.7 C1020.4 912.2 1028.6 912.5 1035.1 913.7Z" fill="none" stroke="#EC130D" stroke-width="8" stroke-linejoin="round"/>
<clipPath id="c10"><path d="M1031.9 793.6 C1037.5 797.3 1042.3 803.5 1045.6 810.2 C1048.9 816.9 1049.7 824.8 1051.5 833.6 C1053.2 842.4 1055.5 854.3 1056.3 862.9 C1057.2 871.6 1058.8 879.2 1056.3 885.4 C1053.9 891.6 1048.2 896.2 1041.7 900.1 C1035.2 904.0 1025.4 906.9 1017.3 908.9 C1009.1 910.8 1000.2 912.3 992.8 911.8 C985.5 911.3 979.8 909.2 973.3 905.9 C966.8 902.7 958.8 897.8 953.7 892.3 C948.7 886.7 945.3 879.6 943.0 872.7 C940.7 865.9 939.9 858.5 940.1 851.2 C940.2 843.9 941.7 835.3 944.0 828.7 C946.3 822.2 949.7 816.9 953.7 812.1 C957.8 807.4 962.7 803.8 968.4 800.4 C974.1 797.0 980.6 793.7 987.9 791.6 C995.3 789.5 1005.0 787.4 1012.4 787.7 C1019.7 788.0 1026.4 789.8 1031.9 793.6Z"/></clipPath>
<path d="M1031.9 793.6 C1037.5 797.3 1042.3 803.5 1045.6 810.2 C1048.9 816.9 1049.7 824.8 1051.5 833.6 C1053.2 842.4 1055.5 854.3 1056.3 862.9 C1057.2 871.6 1058.8 879.2 1056.3 885.4 C1053.9 891.6 1048.2 896.2 1041.7 900.1 C1035.2 904.0 1025.4 906.9 1017.3 908.9 C1009.1 910.8 1000.2 912.3 992.8 911.8 C985.5 911.3 979.8 909.2 973.3 905.9 C966.8 902.7 958.8 897.8 953.7 892.3 C948.7 886.7 945.3 879.6 943.0 872.7 C940.7 865.9 939.9 858.5 940.1 851.2 C940.2 843.9 941.7 835.3 944.0 828.7 C946.3 822.2 949.7 816.9 953.7 812.1 C957.8 807.4 962.7 803.8 968.4 800.4 C974.1 797.0 980.6 793.7 987.9 791.6 C995.3 789.5 1005.0 787.4 1012.4 787.7 C1019.7 788.0 1026.4 789.8 1031.9 793.6Z" fill="#fff"/>
<g clip-path="url(#c10)">
<path d="M1022.8 931.4 L992.8 905.0 Q944.5 862.5 952.8 821.9 L960.8 782.7 L860.8 812.7 L922.8 961.4 Z" fill="#DEDEDE"/>
<path d="M1010.4 825.8 C1012.0 827.0 1018.4 832.9 1020.2 833.6 C1022.0 834.4 1031.5 834.6 1031.9 835.1 C1032.3 835.6 1025.9 838.8 1025.1 839.5 C1024.3 840.2 1022.6 841.9 1022.1 843.4 C1021.7 844.9 1019.9 856.2 1020.2 858.1 C1020.4 859.9 1024.1 864.5 1025.1 865.9 C1026.0 867.3 1031.2 873.5 1031.4 874.7 C1031.7 875.8 1029.3 879.4 1028.0 879.6 C1026.7 879.7 1017.9 877.2 1016.3 876.6 C1014.7 876.1 1009.2 873.9 1008.5 872.7 C1007.7 871.6 1007.2 864.9 1007.5 862.9 C1007.8 861.0 1012.3 851.1 1012.4 849.3 C1012.5 847.5 1009.3 842.8 1008.5 841.4 C1007.6 840.1 1003.9 834.2 1002.6 832.7 C1001.3 831.1 993.5 824.0 993.3 822.9 C993.2 821.7 999.2 818.7 1000.6 819.0 C1002.1 819.2 1008.8 824.6 1010.4 825.8Z" fill="#DEDEDE"/>
</g>
<path d="M1031.9 793.6 C1037.5 797.3 1042.3 803.5 1045.6 810.2 C1048.9 816.9 1049.7 824.8 1051.5 833.6 C1053.2 842.4 1055.5 854.3 1056.3 862.9 C1057.2 871.6 1058.8 879.2 1056.3 885.4 C1053.9 891.6 1048.2 896.2 1041.7 900.1 C1035.2 904.0 1025.4 906.9 1017.3 908.9 C1009.1 910.8 1000.2 912.3 992.8 911.8 C985.5 911.3 979.8 909.2 973.3 905.9 C966.8 902.7 958.8 897.8 953.7 892.3 C948.7 886.7 945.3 879.6 943.0 872.7 C940.7 865.9 939.9 858.5 940.1 851.2 C940.2 843.9 941.7 835.3 944.0 828.7 C946.3 822.2 949.7 816.9 953.7 812.1 C957.8 807.4 962.7 803.8 968.4 800.4 C974.1 797.0 980.6 793.7 987.9 791.6 C995.3 789.5 1005.0 787.4 1012.4 787.7 C1019.7 788.0 1026.4 789.8 1031.9 793.6Z" fill="none" stroke="#F88A1F" stroke-width="8" stroke-linejoin="round"/>
<polyline points="379,590 691.5,590 691.5,632" fill="none" stroke="#000" stroke-width="3"/>
<circle cx="692.3" cy="631.8" r="9.2" fill="#000"/>
<polyline points="379,664 587.6,664" fill="none" stroke="#000" stroke-width="3"/>
<circle cx="587.6" cy="664.4" r="9.2" fill="#000"/>
<polyline points="379,748 511,748" fill="none" stroke="#000" stroke-width="3"/>
<circle cx="511.3" cy="748" r="9.2" fill="#000"/>
<polyline points="379,852 467,852" fill="none" stroke="#000" stroke-width="3"/>
<circle cx="467" cy="852.4" r="9.2" fill="#000"/>
<polyline points="379,959 453,959" fill="none" stroke="#000" stroke-width="3"/>
<circle cx="453" cy="959.3" r="9.2" fill="#000"/>
<polyline points="1103,590 790.7,590 790.7,632" fill="none" stroke="#000" stroke-width="3"/>
<circle cx="792" cy="631.8" r="9.2" fill="#000"/>
<polyline points="1103,663 896,663" fill="none" stroke="#000" stroke-width="3"/>
<circle cx="896.2" cy="664.4" r="9.2" fill="#000"/>
<polyline points="1103,747.6 968,747.6" fill="none" stroke="#000" stroke-width="3"/>
<circle cx="968" cy="747.6" r="9.2" fill="#000"/>
<polyline points="1103,851.8 1014.4,851.8" fill="none" stroke="#000" stroke-width="3"/>
<circle cx="1014.4" cy="851.8" r="9.2" fill="#000"/>
<polyline points="1103,959 1028,959" fill="none" stroke="#000" stroke-width="3"/>
<circle cx="1028" cy="959" r="9.2" fill="#000"/>
<g><text transform="translate(680.00 907.80) scale(0.8488 1.0442)" font-family="Liberation Sans" font-weight="bold" font-size="49" fill="#0a0a0a" stroke="#0a0a0a" stroke-width="2" stroke-linejoin="round">U</text><text transform="translate(711.38 907.80) scale(0.8100 1.0023)" font-family="Liberation Sans" font-weight="bold" font-size="49" fill="#0a0a0a" stroke="#0a0a0a" stroke-width="2" stroke-linejoin="round">p</text><text transform="translate(736.58 907.80) scale(0.7492 1.0023)" font-family="Liberation Sans" font-weight="bold" font-size="49" fill="#0a0a0a" stroke="#0a0a0a" stroke-width="2" stroke-linejoin="round">p</text><text transform="translate(762.92 907.80) scale(0.8241 1.0051)" font-family="Liberation Sans" font-weight="bold" font-size="49" fill="#0a0a0a" stroke="#0a0a0a" stroke-width="2" stroke-linejoin="round">e</text><text transform="translate(787.65 907.80) scale(0.7286 1.0042)" font-family="Liberation Sans" font-weight="bold" font-size="49" fill="#0a0a0a" stroke="#0a0a0a" stroke-width="2" stroke-linejoin="round">r</text></g>
<text x="113.6" y="599.4" font-family="Liberation Sans" font-size="28.5" font-weight="normal" fill="#111" text-anchor="start" textLength="260.4" lengthAdjust="spacingAndGlyphs" >Central Incisor (8-12)</text>
<text x="119.6" y="673.6" font-family="Liberation Sans" font-size="28.5" font-weight="normal" fill="#111" text-anchor="start" textLength="254.4" lengthAdjust="spacingAndGlyphs" >Lateral Incisor (9-13)</text>
<text x="92" y="757.7" font-family="Liberation Sans" font-size="28.5" font-weight="normal" fill="#111" text-anchor="start" textLength="282" lengthAdjust="spacingAndGlyphs" >Canine/Cuspid (16-22)</text>
<text x="141" y="862.3" font-family="Liberation Sans" font-size="28.5" font-weight="normal" fill="#111" text-anchor="start" textLength="233" lengthAdjust="spacingAndGlyphs" >First Molar (13-19)</text>
<text x="105.6" y="968.3" font-family="Liberation Sans" font-size="28.5" font-weight="normal" fill="#111" text-anchor="start" textLength="268.4" lengthAdjust="spacingAndGlyphs" >Second Molar (25-33)</text>
<text x="1111.4" y="599.4" font-family="Liberation Sans" font-size="28.5" font-weight="normal" fill="#111" text-anchor="start" textLength="244.39999999999986" lengthAdjust="spacingAndGlyphs" >Central Incisor (6-7)</text>
<text x="1111.4" y="673.6" font-family="Liberation Sans" font-size="28.5" font-weight="normal" fill="#111" text-anchor="start" textLength="239.0" lengthAdjust="spacingAndGlyphs" >Lateral Incisor (7-8)</text>
<text x="1111.4" y="757.7" font-family="Liberation Sans" font-size="28.5" font-weight="normal" fill="#111" text-anchor="start" textLength="281.5999999999999" lengthAdjust="spacingAndGlyphs" >Canine/Cuspid (10-12)</text>
<text x="1111.4" y="862.3" font-family="Liberation Sans" font-size="28.5" font-weight="normal" fill="#111" text-anchor="start" textLength="217.5999999999999" lengthAdjust="spacingAndGlyphs" >First Molar (9-11)</text>
<text x="1111.4" y="968.3" font-family="Liberation Sans" font-size="28.5" font-weight="normal" fill="#111" text-anchor="start" textLength="268.5999999999999" lengthAdjust="spacingAndGlyphs" >Second Molar (10-12)</text>
<path d="M583.8 1223.4 C582.4 1227.3 578.0 1235.2 575.9 1246.9 C573.8 1258.6 572.1 1280.7 571.2 1293.8 C570.4 1306.8 570.0 1314.6 570.5 1325.0 C571.0 1335.4 571.7 1344.5 574.4 1356.2 C577.1 1368.0 581.7 1383.6 586.9 1395.3 C592.1 1407.0 597.8 1416.4 605.6 1426.6 C613.4 1436.8 623.9 1448.2 633.8 1456.2 C643.6 1464.3 654.6 1469.8 665.0 1475.0 C675.4 1480.2 683.5 1484.2 696.2 1487.5 C709.0 1490.8 726.2 1495.0 741.5 1495.0 C756.8 1495.0 774.8 1490.8 787.8 1487.5 C800.7 1484.2 808.6 1480.2 819.0 1475.0 C829.4 1469.8 840.4 1464.3 850.2 1456.2 C860.1 1448.2 870.6 1436.8 878.4 1426.6 C886.2 1416.4 891.9 1407.0 897.1 1395.3 C902.3 1383.6 906.9 1368.0 909.6 1356.2 C912.3 1344.5 913.0 1335.4 913.5 1325.0 C914.0 1314.6 913.6 1306.8 912.8 1293.8 C911.9 1280.7 910.2 1258.6 908.1 1246.9 C906.0 1235.2 901.6 1227.3 900.2 1223.4 L900.2 1223.4 C906.0 1218.5 925.0 1201.9 934.6 1194.0 C944.2 1186.1 950.8 1180.6 958.0 1176.0 C965.2 1171.4 972.3 1168.3 978.0 1166.5 C983.7 1164.7 987.5 1164.2 992.0 1165.0 C996.5 1165.8 1000.8 1167.5 1005.0 1171.0 C1009.2 1174.5 1013.2 1180.0 1017.0 1186.0 C1020.8 1192.0 1024.8 1199.3 1028.0 1207.0 C1031.2 1214.7 1033.7 1217.2 1036.5 1232.0 C1039.3 1246.8 1043.0 1276.9 1044.6 1295.6 C1046.2 1314.3 1047.1 1328.5 1046.0 1344.0 C1044.9 1359.5 1040.2 1377.7 1038.0 1388.5 C1035.8 1399.3 1037.0 1396.8 1033.0 1409.0 C1029.0 1421.2 1020.3 1448.2 1014.0 1462.0 C1007.7 1475.8 1002.2 1480.2 995.0 1492.0 C987.8 1503.8 980.0 1521.2 971.0 1533.0 C962.0 1544.8 951.8 1553.3 941.0 1563.0 C930.2 1572.7 918.0 1583.1 906.0 1591.0 C894.0 1598.9 881.0 1605.8 869.0 1610.5 C857.0 1615.2 855.2 1615.8 834.0 1619.4 C812.8 1623.0 772.7 1632.0 742.0 1632.0 C711.3 1632.0 671.2 1623.0 650.0 1619.4 C628.8 1615.8 627.0 1615.2 615.0 1610.5 C603.0 1605.8 590.0 1598.9 578.0 1591.0 C566.0 1583.1 553.8 1572.7 543.0 1563.0 C532.2 1553.3 522.0 1544.8 513.0 1533.0 C504.0 1521.2 496.2 1503.8 489.0 1492.0 C481.8 1480.2 476.3 1475.8 470.0 1462.0 C463.7 1448.2 455.0 1421.2 451.0 1409.0 C447.0 1396.8 448.2 1399.3 446.0 1388.5 C443.8 1377.7 439.1 1359.5 438.0 1344.0 C436.9 1328.5 437.8 1314.3 439.4 1295.6 C441.0 1276.9 444.7 1246.8 447.5 1232.0 C450.3 1217.2 452.8 1214.7 456.0 1207.0 C459.2 1199.3 463.2 1192.0 467.0 1186.0 C470.8 1180.0 474.8 1174.5 479.0 1171.0 C483.2 1167.5 487.5 1165.8 492.0 1165.0 C496.5 1164.2 500.3 1164.7 506.0 1166.5 C511.7 1168.3 518.8 1171.4 526.0 1176.0 C533.2 1180.6 539.8 1186.1 549.4 1194.0 C559.0 1201.9 578.0 1218.5 583.8 1223.4Z" fill="#F3A5A3"/>
<g opacity="0.8"><path d="M628.2 1495.8 C633.6 1496.4 640.9 1497.2 645.7 1500.1 C650.6 1503.1 654.5 1507.9 657.1 1513.3 C659.8 1518.7 661.7 1525.0 661.5 1532.6 C661.4 1540.2 658.2 1550.8 656.3 1558.8 C654.4 1566.9 652.3 1573.4 650.1 1580.7 C647.9 1588.0 647.5 1599.0 643.1 1602.6 C638.7 1606.3 630.7 1603.4 623.8 1602.6 C617.0 1601.9 609.2 1600.9 601.9 1598.3 C594.6 1595.6 586.3 1591.3 580.0 1586.9 C573.8 1582.5 567.6 1576.9 564.3 1572.0 C560.9 1567.0 559.9 1561.3 559.9 1557.1 C559.9 1552.9 560.9 1552.1 564.3 1546.6 C567.6 1541.0 574.5 1531.0 580.0 1523.8 C585.6 1516.6 592.0 1508.2 597.6 1503.7 C603.1 1499.1 608.2 1498.0 613.3 1496.6 C618.4 1495.3 622.8 1495.2 628.2 1495.8Z" fill="#F2857D" stroke="#F2857D" stroke-width="8" transform="translate(0.5 3.5)"/><path d="M651.3 1609.5 C650.2 1605.1 652.5 1597.3 653.7 1590.9 C655.0 1584.4 656.6 1577.4 658.6 1570.6 C660.6 1563.9 663.3 1556.4 665.9 1550.4 C668.4 1544.5 670.5 1539.4 674.0 1535.1 C677.5 1530.8 681.8 1527.0 686.9 1524.6 C692.0 1522.1 699.0 1520.6 704.7 1520.5 C710.3 1520.4 716.1 1521.9 720.9 1523.7 C725.6 1525.6 729.8 1529.1 733.0 1531.8 C736.2 1534.5 738.9 1538.6 740.0 1539.9 C741.2 1541.3 740.0 1535.5 740.0 1539.9 C740.0 1544.4 740.0 1558.1 740.0 1566.6 C740.0 1575.1 740.0 1582.2 740.0 1590.9 C740.0 1599.5 740.0 1613.8 740.0 1618.4 C740.0 1622.9 742.5 1617.7 740.0 1618.4 C737.5 1619.0 730.8 1620.9 724.9 1622.4 C719.0 1623.9 710.8 1626.3 704.7 1627.2 C698.6 1628.2 693.9 1628.7 688.5 1628.1 C683.1 1627.4 677.1 1625.1 672.3 1623.2 C667.6 1621.3 663.7 1619.0 660.2 1616.7 C656.7 1614.4 652.4 1613.8 651.3 1609.5Z" fill="#F2857D" stroke="#F2857D" stroke-width="8" transform="translate(0.5 3.5)"/><path d="M557.3 1441.8 C564.2 1440.9 570.2 1442.7 575.5 1444.6 C580.8 1446.4 585.6 1449.1 589.2 1452.7 C592.8 1456.4 595.9 1461.1 597.4 1466.4 C598.9 1471.7 598.9 1478.5 598.3 1484.6 C597.7 1490.7 596.8 1496.7 593.7 1502.8 C590.7 1508.9 584.6 1515.4 580.1 1521.0 C575.5 1526.6 570.2 1532.1 566.4 1536.5 C562.7 1540.9 561.9 1546.6 557.3 1547.4 C552.8 1548.1 546.0 1544.2 539.1 1541.0 C532.3 1537.8 522.5 1532.7 516.4 1528.3 C510.3 1523.9 506.4 1520.1 502.7 1514.6 C499.1 1509.2 496.2 1501.6 494.6 1495.5 C492.9 1489.4 492.1 1482.2 492.7 1478.2 C493.3 1474.3 494.3 1474.9 498.2 1471.9 C502.1 1468.8 510.3 1463.7 516.4 1460.0 C522.5 1456.4 527.8 1453.1 534.6 1450.0 C541.4 1447.0 550.5 1442.7 557.3 1441.8Z" fill="#F2857D" stroke="#F2857D" stroke-width="8" transform="translate(0.5 3.5)"/><path d="M448.9 1236.4 C451.7 1231.7 457.5 1226.4 463.0 1224.2 C468.5 1221.9 474.8 1222.4 481.9 1222.7 C489.0 1223.1 498.4 1224.4 505.5 1226.0 C512.5 1227.7 518.8 1229.7 524.3 1232.6 C529.8 1235.6 534.4 1239.1 538.5 1244.0 C542.6 1248.8 546.5 1255.0 548.9 1261.9 C551.2 1268.8 552.6 1277.6 552.6 1285.5 C552.6 1293.3 551.2 1302.3 548.9 1309.1 C546.5 1315.8 543.4 1320.8 538.5 1326.0 C533.6 1331.2 526.7 1336.9 519.6 1340.2 C512.5 1343.5 503.9 1345.4 496.0 1345.8 C488.2 1346.3 479.5 1345.2 472.5 1343.0 C465.4 1340.8 458.5 1336.7 453.6 1332.6 C448.7 1328.6 445.3 1324.0 443.2 1318.5 C441.2 1313.0 441.3 1306.7 441.3 1299.6 C441.3 1292.5 442.4 1283.9 443.2 1276.0 C444.0 1268.2 445.1 1259.1 446.0 1252.5 C447.0 1245.8 446.0 1241.1 448.9 1236.4Z" fill="#F2857D" stroke="#F2857D" stroke-width="8" transform="translate(0.5 3.5)"/><path d="M472.7 1350.4 C479.0 1349.1 488.5 1347.9 496.3 1347.5 C504.2 1347.2 512.8 1346.8 519.9 1348.5 C527.0 1350.2 533.6 1353.8 538.8 1357.9 C544.0 1362.0 547.7 1367.4 551.0 1373.0 C554.3 1378.7 557.3 1385.6 558.6 1391.9 C559.8 1398.2 559.5 1404.5 558.6 1410.8 C557.6 1417.0 556.2 1423.6 552.9 1429.6 C549.6 1435.6 544.3 1442.0 538.8 1446.6 C533.3 1451.2 526.2 1454.5 519.9 1457.0 C513.6 1459.5 507.3 1461.1 501.0 1461.7 C494.7 1462.3 487.5 1462.5 482.2 1460.8 C476.8 1459.0 472.4 1455.7 469.0 1451.3 C465.5 1446.9 463.5 1441.1 461.4 1434.3 C459.4 1427.6 458.3 1418.6 456.7 1410.8 C455.1 1402.9 452.9 1394.2 452.0 1387.2 C451.0 1380.1 449.9 1373.6 451.0 1368.3 C452.1 1363.0 455.0 1358.1 458.6 1355.1 C462.2 1352.1 466.4 1351.6 472.7 1350.4Z" fill="#F2857D" stroke="#F2857D" stroke-width="8" transform="translate(0.5 3.5)"/><path d="M870.7 1496.6 C875.8 1498.0 880.9 1499.1 886.4 1503.7 C892.0 1508.2 898.4 1516.6 904.0 1523.8 C909.5 1531.0 916.4 1541.0 919.7 1546.6 C923.1 1552.1 924.1 1552.9 924.1 1557.1 C924.1 1561.3 923.1 1567.0 919.7 1572.0 C916.4 1576.9 910.2 1582.5 904.0 1586.9 C897.7 1591.3 889.4 1595.6 882.1 1598.3 C874.8 1600.9 867.0 1601.9 860.2 1602.6 C853.3 1603.4 845.3 1606.3 840.9 1602.6 C836.5 1599.0 836.1 1588.0 833.9 1580.7 C831.7 1573.4 829.6 1566.9 827.7 1558.8 C825.8 1550.8 822.6 1540.2 822.5 1532.6 C822.3 1525.0 824.2 1518.7 826.9 1513.3 C829.5 1507.9 833.4 1503.1 838.3 1500.1 C843.1 1497.2 850.4 1496.4 855.8 1495.8 C861.2 1495.2 865.6 1495.3 870.7 1496.6Z" fill="#F2857D" stroke="#F2857D" stroke-width="8" transform="translate(0.5 3.5)"/><path d="M823.8 1616.7 C820.3 1619.0 816.4 1621.3 811.7 1623.2 C806.9 1625.1 800.9 1627.4 795.5 1628.1 C790.1 1628.7 785.4 1628.2 779.3 1627.2 C773.2 1626.3 765.0 1623.9 759.1 1622.4 C753.2 1620.9 746.5 1619.0 744.0 1618.4 C741.5 1617.7 744.0 1622.9 744.0 1618.4 C744.0 1613.8 744.0 1599.5 744.0 1590.9 C744.0 1582.2 744.0 1575.1 744.0 1566.6 C744.0 1558.1 744.0 1544.4 744.0 1539.9 C744.0 1535.5 742.8 1541.3 744.0 1539.9 C745.1 1538.6 747.8 1534.5 751.0 1531.8 C754.2 1529.1 758.4 1525.6 763.1 1523.7 C767.9 1521.9 773.7 1520.4 779.3 1520.5 C785.0 1520.6 792.0 1522.1 797.1 1524.6 C802.2 1527.0 806.5 1530.8 810.0 1535.1 C813.5 1539.4 815.6 1544.5 818.1 1550.4 C820.7 1556.4 823.4 1563.9 825.4 1570.6 C827.4 1577.4 829.0 1584.4 830.3 1590.9 C831.5 1597.3 833.8 1605.1 832.7 1609.5 C831.6 1613.8 827.3 1614.4 823.8 1616.7Z" fill="#F2857D" stroke="#F2857D" stroke-width="8" transform="translate(0.5 3.5)"/><path d="M949.4 1450.0 C956.2 1453.1 961.5 1456.4 967.6 1460.0 C973.7 1463.7 981.9 1468.8 985.8 1471.9 C989.7 1474.9 990.7 1474.3 991.3 1478.2 C991.9 1482.2 991.1 1489.4 989.4 1495.5 C987.8 1501.6 984.9 1509.2 981.3 1514.6 C977.6 1520.1 973.7 1523.9 967.6 1528.3 C961.5 1532.7 951.7 1537.8 944.9 1541.0 C938.0 1544.2 931.2 1548.1 926.7 1547.4 C922.1 1546.6 921.3 1540.9 917.6 1536.5 C913.8 1532.1 908.5 1526.6 903.9 1521.0 C899.4 1515.4 893.3 1508.9 890.3 1502.8 C887.2 1496.7 886.3 1490.7 885.7 1484.6 C885.1 1478.5 885.1 1471.7 886.6 1466.4 C888.1 1461.1 891.2 1456.4 894.8 1452.7 C898.4 1449.1 903.2 1446.4 908.5 1444.6 C913.8 1442.7 919.8 1440.9 926.7 1441.8 C933.5 1442.7 942.6 1447.0 949.4 1450.0Z" fill="#F2857D" stroke="#F2857D" stroke-width="8" transform="translate(0.5 3.5)"/><path d="M1038.0 1252.5 C1038.9 1259.1 1040.0 1268.2 1040.8 1276.0 C1041.6 1283.9 1042.7 1292.5 1042.7 1299.6 C1042.7 1306.7 1042.8 1313.0 1040.8 1318.5 C1038.7 1324.0 1035.3 1328.6 1030.4 1332.6 C1025.5 1336.7 1018.6 1340.8 1011.5 1343.0 C1004.5 1345.2 995.8 1346.3 988.0 1345.8 C980.1 1345.4 971.5 1343.5 964.4 1340.2 C957.3 1336.9 950.4 1331.2 945.5 1326.0 C940.6 1320.8 937.5 1315.8 935.1 1309.1 C932.8 1302.3 931.4 1293.3 931.4 1285.5 C931.4 1277.6 932.8 1268.8 935.1 1261.9 C937.5 1255.0 941.4 1248.8 945.5 1244.0 C949.6 1239.1 954.2 1235.6 959.7 1232.6 C965.2 1229.7 971.5 1227.7 978.5 1226.0 C985.6 1224.4 995.0 1223.1 1002.1 1222.7 C1009.2 1222.4 1015.5 1221.9 1021.0 1224.2 C1026.5 1226.4 1032.3 1231.7 1035.1 1236.4 C1038.0 1241.1 1037.0 1245.8 1038.0 1252.5Z" fill="#F2857D" stroke="#F2857D" stroke-width="8" transform="translate(0.5 3.5)"/><path d="M1025.4 1355.1 C1029.0 1358.1 1031.9 1363.0 1033.0 1368.3 C1034.1 1373.6 1033.0 1380.1 1032.0 1387.2 C1031.1 1394.2 1028.9 1402.9 1027.3 1410.8 C1025.7 1418.6 1024.6 1427.6 1022.6 1434.3 C1020.5 1441.1 1018.5 1446.9 1015.0 1451.3 C1011.6 1455.7 1007.2 1459.0 1001.8 1460.8 C996.5 1462.5 989.3 1462.3 983.0 1461.7 C976.7 1461.1 970.4 1459.5 964.1 1457.0 C957.8 1454.5 950.7 1451.2 945.2 1446.6 C939.7 1442.0 934.4 1435.6 931.1 1429.6 C927.8 1423.6 926.4 1417.0 925.4 1410.8 C924.5 1404.5 924.2 1398.2 925.4 1391.9 C926.7 1385.6 929.7 1378.7 933.0 1373.0 C936.3 1367.4 940.0 1362.0 945.2 1357.9 C950.4 1353.8 957.0 1350.2 964.1 1348.5 C971.2 1346.8 979.8 1347.2 987.7 1347.5 C995.5 1347.9 1005.0 1349.1 1011.3 1350.4 C1017.6 1351.6 1021.8 1352.1 1025.4 1355.1Z" fill="#F2857D" stroke="#F2857D" stroke-width="8" transform="translate(0.5 3.5)"/></g>
<clipPath id="c11"><path d="M628.2 1495.8 C633.6 1496.4 640.9 1497.2 645.7 1500.1 C650.6 1503.1 654.5 1507.9 657.1 1513.3 C659.8 1518.7 661.7 1525.0 661.5 1532.6 C661.4 1540.2 658.2 1550.8 656.3 1558.8 C654.4 1566.9 652.3 1573.4 650.1 1580.7 C647.9 1588.0 647.5 1599.0 643.1 1602.6 C638.7 1606.3 630.7 1603.4 623.8 1602.6 C617.0 1601.9 609.2 1600.9 601.9 1598.3 C594.6 1595.6 586.3 1591.3 580.0 1586.9 C573.8 1582.5 567.6 1576.9 564.3 1572.0 C560.9 1567.0 559.9 1561.3 559.9 1557.1 C559.9 1552.9 560.9 1552.1 564.3 1546.6 C567.6 1541.0 574.5 1531.0 580.0 1523.8 C585.6 1516.6 592.0 1508.2 597.6 1503.7 C603.1 1499.1 608.2 1498.0 613.3 1496.6 C618.4 1495.3 622.8 1495.2 628.2 1495.8Z"/></clipPath>
<path d="M628.2 1495.8 C633.6 1496.4 640.9 1497.2 645.7 1500.1 C650.6 1503.1 654.5 1507.9 657.1 1513.3 C659.8 1518.7 661.7 1525.0 661.5 1532.6 C661.4 1540.2 658.2 1550.8 656.3 1558.8 C654.4 1566.9 652.3 1573.4 650.1 1580.7 C647.9 1588.0 647.5 1599.0 643.1 1602.6 C638.7 1606.3 630.7 1603.4 623.8 1602.6 C617.0 1601.9 609.2 1600.9 601.9 1598.3 C594.6 1595.6 586.3 1591.3 580.0 1586.9 C573.8 1582.5 567.6 1576.9 564.3 1572.0 C560.9 1567.0 559.9 1561.3 559.9 1557.1 C559.9 1552.9 560.9 1552.1 564.3 1546.6 C567.6 1541.0 574.5 1531.0 580.0 1523.8 C585.6 1516.6 592.0 1508.2 597.6 1503.7 C603.1 1499.1 608.2 1498.0 613.3 1496.6 C618.4 1495.3 622.8 1495.2 628.2 1495.8Z" fill="#fff"/>
<g clip-path="url(#c11)">
<path d="M543.8 1541.6 L581.8 1529.0 Q637.0 1510.7 657.1 1529.0 L686.7 1555.9 L686.7 1455.9 L543.8 1441.6 Z" fill="#DEDEDE"/>
</g>
<path d="M628.2 1495.8 C633.6 1496.4 640.9 1497.2 645.7 1500.1 C650.6 1503.1 654.5 1507.9 657.1 1513.3 C659.8 1518.7 661.7 1525.0 661.5 1532.6 C661.4 1540.2 658.2 1550.8 656.3 1558.8 C654.4 1566.9 652.3 1573.4 650.1 1580.7 C647.9 1588.0 647.5 1599.0 643.1 1602.6 C638.7 1606.3 630.7 1603.4 623.8 1602.6 C617.0 1601.9 609.2 1600.9 601.9 1598.3 C594.6 1595.6 586.3 1591.3 580.0 1586.9 C573.8 1582.5 567.6 1576.9 564.3 1572.0 C560.9 1567.0 559.9 1561.3 559.9 1557.1 C559.9 1552.9 560.9 1552.1 564.3 1546.6 C567.6 1541.0 574.5 1531.0 580.0 1523.8 C585.6 1516.6 592.0 1508.2 597.6 1503.7 C603.1 1499.1 608.2 1498.0 613.3 1496.6 C618.4 1495.3 622.8 1495.2 628.2 1495.8Z" fill="none" stroke="#F8D84A" stroke-width="8" stroke-linejoin="round"/>
<clipPath id="c12"><path d="M651.3 1609.5 C650.2 1605.1 652.5 1597.3 653.7 1590.9 C655.0 1584.4 656.6 1577.4 658.6 1570.6 C660.6 1563.9 663.3 1556.4 665.9 1550.4 C668.4 1544.5 670.5 1539.4 674.0 1535.1 C677.5 1530.8 681.8 1527.0 686.9 1524.6 C692.0 1522.1 699.0 1520.6 704.7 1520.5 C710.3 1520.4 716.1 1521.9 720.9 1523.7 C725.6 1525.6 729.8 1529.1 733.0 1531.8 C736.2 1534.5 738.9 1538.6 740.0 1539.9 C741.2 1541.3 740.0 1535.5 740.0 1539.9 C740.0 1544.4 740.0 1558.1 740.0 1566.6 C740.0 1575.1 740.0 1582.2 740.0 1590.9 C740.0 1599.5 740.0 1613.8 740.0 1618.4 C740.0 1622.9 742.5 1617.7 740.0 1618.4 C737.5 1619.0 730.8 1620.9 724.9 1622.4 C719.0 1623.9 710.8 1626.3 704.7 1627.2 C698.6 1628.2 693.9 1628.7 688.5 1628.1 C683.1 1627.4 677.1 1625.1 672.3 1623.2 C667.6 1621.3 663.7 1619.0 660.2 1616.7 C656.7 1614.4 652.4 1613.8 651.3 1609.5Z"/></clipPath>
<path d="M651.3 1609.5 C650.2 1605.1 652.5 1597.3 653.7 1590.9 C655.0 1584.4 656.6 1577.4 658.6 1570.6 C660.6 1563.9 663.3 1556.4 665.9 1550.4 C668.4 1544.5 670.5 1539.4 674.0 1535.1 C677.5 1530.8 681.8 1527.0 686.9 1524.6 C692.0 1522.1 699.0 1520.6 704.7 1520.5 C710.3 1520.4 716.1 1521.9 720.9 1523.7 C725.6 1525.6 729.8 1529.1 733.0 1531.8 C736.2 1534.5 738.9 1538.6 740.0 1539.9 C741.2 1541.3 740.0 1535.5 740.0 1539.9 C740.0 1544.4 740.0 1558.1 740.0 1566.6 C740.0 1575.1 740.0 1582.2 740.0 1590.9 C740.0 1599.5 740.0 1613.8 740.0 1618.4 C740.0 1622.9 742.5 1617.7 740.0 1618.4 C737.5 1619.0 730.8 1620.9 724.9 1622.4 C719.0 1623.9 710.8 1626.3 704.7 1627.2 C698.6 1628.2 693.9 1628.7 688.5 1628.1 C683.1 1627.4 677.1 1625.1 672.3 1623.2 C667.6 1621.3 663.7 1619.0 660.2 1616.7 C656.7 1614.4 652.4 1613.8 651.3 1609.5Z" fill="#fff"/>
<g clip-path="url(#c12)">
<path d="M632.1 1555.6 L670.0 1543.0 Q703.0 1532.0 735.0 1547.0 L771.2 1564.0 L771.2 1464.0 L632.1 1455.6 Z" fill="#DEDEDE"/>
</g>
<path d="M651.3 1609.5 C650.2 1605.1 652.5 1597.3 653.7 1590.9 C655.0 1584.4 656.6 1577.4 658.6 1570.6 C660.6 1563.9 663.3 1556.4 665.9 1550.4 C668.4 1544.5 670.5 1539.4 674.0 1535.1 C677.5 1530.8 681.8 1527.0 686.9 1524.6 C692.0 1522.1 699.0 1520.6 704.7 1520.5 C710.3 1520.4 716.1 1521.9 720.9 1523.7 C725.6 1525.6 729.8 1529.1 733.0 1531.8 C736.2 1534.5 738.9 1538.6 740.0 1539.9 C741.2 1541.3 740.0 1535.5 740.0 1539.9 C740.0 1544.4 740.0 1558.1 740.0 1566.6 C740.0 1575.1 740.0 1582.2 740.0 1590.9 C740.0 1599.5 740.0 1613.8 740.0 1618.4 C740.0 1622.9 742.5 1617.7 740.0 1618.4 C737.5 1619.0 730.8 1620.9 724.9 1622.4 C719.0 1623.9 710.8 1626.3 704.7 1627.2 C698.6 1628.2 693.9 1628.7 688.5 1628.1 C683.1 1627.4 677.1 1625.1 672.3 1623.2 C667.6 1621.3 663.7 1619.0 660.2 1616.7 C656.7 1614.4 652.4 1613.8 651.3 1609.5Z" fill="none" stroke="#0670A4" stroke-width="8" stroke-linejoin="round"/>
<clipPath id="c13"><path d="M557.3 1441.8 C564.2 1440.9 570.2 1442.7 575.5 1444.6 C580.8 1446.4 585.6 1449.1 589.2 1452.7 C592.8 1456.4 595.9 1461.1 597.4 1466.4 C598.9 1471.7 598.9 1478.5 598.3 1484.6 C597.7 1490.7 596.8 1496.7 593.7 1502.8 C590.7 1508.9 584.6 1515.4 580.1 1521.0 C575.5 1526.6 570.2 1532.1 566.4 1536.5 C562.7 1540.9 561.9 1546.6 557.3 1547.4 C552.8 1548.1 546.0 1544.2 539.1 1541.0 C532.3 1537.8 522.5 1532.7 516.4 1528.3 C510.3 1523.9 506.4 1520.1 502.7 1514.6 C499.1 1509.2 496.2 1501.6 494.6 1495.5 C492.9 1489.4 492.1 1482.2 492.7 1478.2 C493.3 1474.3 494.3 1474.9 498.2 1471.9 C502.1 1468.8 510.3 1463.7 516.4 1460.0 C522.5 1456.4 527.8 1453.1 534.6 1450.0 C541.4 1447.0 550.5 1442.7 557.3 1441.8Z"/></clipPath>
<path d="M557.3 1441.8 C564.2 1440.9 570.2 1442.7 575.5 1444.6 C580.8 1446.4 585.6 1449.1 589.2 1452.7 C592.8 1456.4 595.9 1461.1 597.4 1466.4 C598.9 1471.7 598.9 1478.5 598.3 1484.6 C597.7 1490.7 596.8 1496.7 593.7 1502.8 C590.7 1508.9 584.6 1515.4 580.1 1521.0 C575.5 1526.6 570.2 1532.1 566.4 1536.5 C562.7 1540.9 561.9 1546.6 557.3 1547.4 C552.8 1548.1 546.0 1544.2 539.1 1541.0 C532.3 1537.8 522.5 1532.7 516.4 1528.3 C510.3 1523.9 506.4 1520.1 502.7 1514.6 C499.1 1509.2 496.2 1501.6 494.6 1495.5 C492.9 1489.4 492.1 1482.2 492.7 1478.2 C493.3 1474.3 494.3 1474.9 498.2 1471.9 C502.1 1468.8 510.3 1463.7 516.4 1460.0 C522.5 1456.4 527.8 1453.1 534.6 1450.0 C541.4 1447.0 550.5 1442.7 557.3 1441.8Z" fill="#fff"/>
<g clip-path="url(#c13)">
<path d="M470.4 1496.4 L502.7 1472.8 Q539.6 1445.9 592.8 1486.4 L624.6 1510.6 L624.6 1410.6 L470.4 1396.4 Z" fill="#DEDEDE"/>
</g>
<path d="M557.3 1441.8 C564.2 1440.9 570.2 1442.7 575.5 1444.6 C580.8 1446.4 585.6 1449.1 589.2 1452.7 C592.8 1456.4 595.9 1461.1 597.4 1466.4 C598.9 1471.7 598.9 1478.5 598.3 1484.6 C597.7 1490.7 596.8 1496.7 593.7 1502.8 C590.7 1508.9 584.6 1515.4 580.1 1521.0 C575.5 1526.6 570.2 1532.1 566.4 1536.5 C562.7 1540.9 561.9 1546.6 557.3 1547.4 C552.8 1548.1 546.0 1544.2 539.1 1541.0 C532.3 1537.8 522.5 1532.7 516.4 1528.3 C510.3 1523.9 506.4 1520.1 502.7 1514.6 C499.1 1509.2 496.2 1501.6 494.6 1495.5 C492.9 1489.4 492.1 1482.2 492.7 1478.2 C493.3 1474.3 494.3 1474.9 498.2 1471.9 C502.1 1468.8 510.3 1463.7 516.4 1460.0 C522.5 1456.4 527.8 1453.1 534.6 1450.0 C541.4 1447.0 550.5 1442.7 557.3 1441.8Z" fill="none" stroke="#6AAF44" stroke-width="8" stroke-linejoin="round"/>
<clipPath id="c14"><path d="M448.9 1236.4 C451.7 1231.7 457.5 1226.4 463.0 1224.2 C468.5 1221.9 474.8 1222.4 481.9 1222.7 C489.0 1223.1 498.4 1224.4 505.5 1226.0 C512.5 1227.7 518.8 1229.7 524.3 1232.6 C529.8 1235.6 534.4 1239.1 538.5 1244.0 C542.6 1248.8 546.5 1255.0 548.9 1261.9 C551.2 1268.8 552.6 1277.6 552.6 1285.5 C552.6 1293.3 551.2 1302.3 548.9 1309.1 C546.5 1315.8 543.4 1320.8 538.5 1326.0 C533.6 1331.2 526.7 1336.9 519.6 1340.2 C512.5 1343.5 503.9 1345.4 496.0 1345.8 C488.2 1346.3 479.5 1345.2 472.5 1343.0 C465.4 1340.8 458.5 1336.7 453.6 1332.6 C448.7 1328.6 445.3 1324.0 443.2 1318.5 C441.2 1313.0 441.3 1306.7 441.3 1299.6 C441.3 1292.5 442.4 1283.9 443.2 1276.0 C444.0 1268.2 445.1 1259.1 446.0 1252.5 C447.0 1245.8 446.0 1241.1 448.9 1236.4Z"/></clipPath>
<path d="M448.9 1236.4 C451.7 1231.7 457.5 1226.4 463.0 1224.2 C468.5 1221.9 474.8 1222.4 481.9 1222.7 C489.0 1223.1 498.4 1224.4 505.5 1226.0 C512.5 1227.7 518.8 1229.7 524.3 1232.6 C529.8 1235.6 534.4 1239.1 538.5 1244.0 C542.6 1248.8 546.5 1255.0 548.9 1261.9 C551.2 1268.8 552.6 1277.6 552.6 1285.5 C552.6 1293.3 551.2 1302.3 548.9 1309.1 C546.5 1315.8 543.4 1320.8 538.5 1326.0 C533.6 1331.2 526.7 1336.9 519.6 1340.2 C512.5 1343.5 503.9 1345.4 496.0 1345.8 C488.2 1346.3 479.5 1345.2 472.5 1343.0 C465.4 1340.8 458.5 1336.7 453.6 1332.6 C448.7 1328.6 445.3 1324.0 443.2 1318.5 C441.2 1313.0 441.3 1306.7 441.3 1299.6 C441.3 1292.5 442.4 1283.9 443.2 1276.0 C444.0 1268.2 445.1 1259.1 446.0 1252.5 C447.0 1245.8 446.0 1241.1 448.9 1236.4Z" fill="#fff"/>
<g clip-path="url(#c14)">
<path d="M495.0 1207.3 L517.7 1240.2 Q538.5 1270.4 525.3 1323.2 L515.6 1362.0 L615.6 1362.0 L595.0 1207.3 Z" fill="#DEDEDE"/>
<path d="M471.5 1259.1 C472.1 1258.0 476.1 1253.6 477.2 1253.4 C478.3 1253.2 483.5 1255.3 484.7 1256.2 C486.0 1257.2 492.0 1263.1 492.3 1264.7 C492.5 1266.4 488.0 1273.7 487.5 1276.0 C487.1 1278.4 487.5 1291.4 486.6 1293.0 C485.7 1294.6 478.3 1295.1 477.2 1294.9 C476.1 1294.7 474.4 1290.7 473.4 1290.2 C472.4 1289.6 464.9 1288.8 464.9 1288.3 C464.9 1287.8 472.6 1285.6 473.4 1284.5 C474.2 1283.5 474.6 1277.5 474.3 1276.0 C474.1 1274.5 470.8 1268.0 470.6 1266.6 C470.3 1265.2 471.0 1260.2 471.5 1259.1Z" fill="#DEDEDE"/>
</g>
<path d="M448.9 1236.4 C451.7 1231.7 457.5 1226.4 463.0 1224.2 C468.5 1221.9 474.8 1222.4 481.9 1222.7 C489.0 1223.1 498.4 1224.4 505.5 1226.0 C512.5 1227.7 518.8 1229.7 524.3 1232.6 C529.8 1235.6 534.4 1239.1 538.5 1244.0 C542.6 1248.8 546.5 1255.0 548.9 1261.9 C551.2 1268.8 552.6 1277.6 552.6 1285.5 C552.6 1293.3 551.2 1302.3 548.9 1309.1 C546.5 1315.8 543.4 1320.8 538.5 1326.0 C533.6 1331.2 526.7 1336.9 519.6 1340.2 C512.5 1343.5 503.9 1345.4 496.0 1345.8 C488.2 1346.3 479.5 1345.2 472.5 1343.0 C465.4 1340.8 458.5 1336.7 453.6 1332.6 C448.7 1328.6 445.3 1324.0 443.2 1318.5 C441.2 1313.0 441.3 1306.7 441.3 1299.6 C441.3 1292.5 442.4 1283.9 443.2 1276.0 C444.0 1268.2 445.1 1259.1 446.0 1252.5 C447.0 1245.8 446.0 1241.1 448.9 1236.4Z" fill="none" stroke="#EC130D" stroke-width="8" stroke-linejoin="round"/>
<clipPath id="c15"><path d="M472.7 1350.4 C479.0 1349.1 488.5 1347.9 496.3 1347.5 C504.2 1347.2 512.8 1346.8 519.9 1348.5 C527.0 1350.2 533.6 1353.8 538.8 1357.9 C544.0 1362.0 547.7 1367.4 551.0 1373.0 C554.3 1378.7 557.3 1385.6 558.6 1391.9 C559.8 1398.2 559.5 1404.5 558.6 1410.8 C557.6 1417.0 556.2 1423.6 552.9 1429.6 C549.6 1435.6 544.3 1442.0 538.8 1446.6 C533.3 1451.2 526.2 1454.5 519.9 1457.0 C513.6 1459.5 507.3 1461.1 501.0 1461.7 C494.7 1462.3 487.5 1462.5 482.2 1460.8 C476.8 1459.0 472.4 1455.7 469.0 1451.3 C465.5 1446.9 463.5 1441.1 461.4 1434.3 C459.4 1427.6 458.3 1418.6 456.7 1410.8 C455.1 1402.9 452.9 1394.2 452.0 1387.2 C451.0 1380.1 449.9 1373.6 451.0 1368.3 C452.1 1363.0 455.0 1358.1 458.6 1355.1 C462.2 1352.1 466.4 1351.6 472.7 1350.4Z"/></clipPath>
<path d="M472.7 1350.4 C479.0 1349.1 488.5 1347.9 496.3 1347.5 C504.2 1347.2 512.8 1346.8 519.9 1348.5 C527.0 1350.2 533.6 1353.8 538.8 1357.9 C544.0 1362.0 547.7 1367.4 551.0 1373.0 C554.3 1378.7 557.3 1385.6 558.6 1391.9 C559.8 1398.2 559.5 1404.5 558.6 1410.8 C557.6 1417.0 556.2 1423.6 552.9 1429.6 C549.6 1435.6 544.3 1442.0 538.8 1446.6 C533.3 1451.2 526.2 1454.5 519.9 1457.0 C513.6 1459.5 507.3 1461.1 501.0 1461.7 C494.7 1462.3 487.5 1462.5 482.2 1460.8 C476.8 1459.0 472.4 1455.7 469.0 1451.3 C465.5 1446.9 463.5 1441.1 461.4 1434.3 C459.4 1427.6 458.3 1418.6 456.7 1410.8 C455.1 1402.9 452.9 1394.2 452.0 1387.2 C451.0 1380.1 449.9 1373.6 451.0 1368.3 C452.1 1363.0 455.0 1358.1 458.6 1355.1 C462.2 1352.1 466.4 1351.6 472.7 1350.4Z" fill="#fff"/>
<g clip-path="url(#c15)">
<path d="M483.4 1321.8 L510.5 1351.3 Q552.5 1397.0 543.5 1425.0 L531.3 1463.1 L631.3 1443.1 L583.4 1301.8 Z" fill="#DEDEDE"/>
<path d="M476.5 1379.6 C477.1 1379.0 482.5 1376.4 484.1 1376.8 C485.6 1377.2 494.4 1383.2 495.4 1384.3 C496.3 1385.5 495.8 1389.8 495.4 1390.9 C494.9 1392.1 490.3 1397.2 489.7 1398.5 C489.1 1399.7 488.6 1404.8 487.8 1406.0 C487.0 1407.3 481.5 1412.6 480.3 1413.6 C479.0 1414.6 472.4 1417.8 472.7 1418.3 C473.1 1418.8 481.9 1418.1 484.1 1419.2 C486.3 1420.4 497.0 1431.6 499.2 1432.5 C501.3 1433.3 509.4 1431.1 509.5 1429.6 C509.7 1428.1 502.8 1417.6 501.0 1414.5 C499.2 1411.5 489.8 1395.3 487.8 1392.8 C485.9 1390.3 478.4 1385.4 477.5 1384.3 C476.5 1383.2 476.0 1380.3 476.5 1379.6Z" fill="#DEDEDE"/>
</g>
<path d="M472.7 1350.4 C479.0 1349.1 488.5 1347.9 496.3 1347.5 C504.2 1347.2 512.8 1346.8 519.9 1348.5 C527.0 1350.2 533.6 1353.8 538.8 1357.9 C544.0 1362.0 547.7 1367.4 551.0 1373.0 C554.3 1378.7 557.3 1385.6 558.6 1391.9 C559.8 1398.2 559.5 1404.5 558.6 1410.8 C557.6 1417.0 556.2 1423.6 552.9 1429.6 C549.6 1435.6 544.3 1442.0 538.8 1446.6 C533.3 1451.2 526.2 1454.5 519.9 1457.0 C513.6 1459.5 507.3 1461.1 501.0 1461.7 C494.7 1462.3 487.5 1462.5 482.2 1460.8 C476.8 1459.0 472.4 1455.7 469.0 1451.3 C465.5 1446.9 463.5 1441.1 461.4 1434.3 C459.4 1427.6 458.3 1418.6 456.7 1410.8 C455.1 1402.9 452.9 1394.2 452.0 1387.2 C451.0 1380.1 449.9 1373.6 451.0 1368.3 C452.1 1363.0 455.0 1358.1 458.6 1355.1 C462.2 1352.1 466.4 1351.6 472.7 1350.4Z" fill="none" stroke="#F88A1F" stroke-width="8" stroke-linejoin="round"/>
<clipPath id="c16"><path d="M870.7 1496.6 C875.8 1498.0 880.9 1499.1 886.4 1503.7 C892.0 1508.2 898.4 1516.6 904.0 1523.8 C909.5 1531.0 916.4 1541.0 919.7 1546.6 C923.1 1552.1 924.1 1552.9 924.1 1557.1 C924.1 1561.3 923.1 1567.0 919.7 1572.0 C916.4 1576.9 910.2 1582.5 904.0 1586.9 C897.7 1591.3 889.4 1595.6 882.1 1598.3 C874.8 1600.9 867.0 1601.9 860.2 1602.6 C853.3 1603.4 845.3 1606.3 840.9 1602.6 C836.5 1599.0 836.1 1588.0 833.9 1580.7 C831.7 1573.4 829.6 1566.9 827.7 1558.8 C825.8 1550.8 822.6 1540.2 822.5 1532.6 C822.3 1525.0 824.2 1518.7 826.9 1513.3 C829.5 1507.9 833.4 1503.1 838.3 1500.1 C843.1 1497.2 850.4 1496.4 855.8 1495.8 C861.2 1495.2 865.6 1495.3 870.7 1496.6Z"/></clipPath>
<path d="M870.7 1496.6 C875.8 1498.0 880.9 1499.1 886.4 1503.7 C892.0 1508.2 898.4 1516.6 904.0 1523.8 C909.5 1531.0 916.4 1541.0 919.7 1546.6 C923.1 1552.1 924.1 1552.9 924.1 1557.1 C924.1 1561.3 923.1 1567.0 919.7 1572.0 C916.4 1576.9 910.2 1582.5 904.0 1586.9 C897.7 1591.3 889.4 1595.6 882.1 1598.3 C874.8 1600.9 867.0 1601.9 860.2 1602.6 C853.3 1603.4 845.3 1606.3 840.9 1602.6 C836.5 1599.0 836.1 1588.0 833.9 1580.7 C831.7 1573.4 829.6 1566.9 827.7 1558.8 C825.8 1550.8 822.6 1540.2 822.5 1532.6 C822.3 1525.0 824.2 1518.7 826.9 1513.3 C829.5 1507.9 833.4 1503.1 838.3 1500.1 C843.1 1497.2 850.4 1496.4 855.8 1495.8 C861.2 1495.2 865.6 1495.3 870.7 1496.6Z" fill="#fff"/>
<g clip-path="url(#c16)">
<path d="M797.3 1555.9 L826.9 1529.0 Q847.0 1510.7 902.2 1529.0 L940.2 1541.6 L940.2 1441.6 L797.3 1455.9 Z" fill="#DEDEDE"/>
</g>
<path d="M870.7 1496.6 C875.8 1498.0 880.9 1499.1 886.4 1503.7 C892.0 1508.2 898.4 1516.6 904.0 1523.8 C909.5 1531.0 916.4 1541.0 919.7 1546.6 C923.1 1552.1 924.1 1552.9 924.1 1557.1 C924.1 1561.3 923.1 1567.0 919.7 1572.0 C916.4 1576.9 910.2 1582.5 904.0 1586.9 C897.7 1591.3 889.4 1595.6 882.1 1598.3 C874.8 1600.9 867.0 1601.9 860.2 1602.6 C853.3 1603.4 845.3 1606.3 840.9 1602.6 C836.5 1599.0 836.1 1588.0 833.9 1580.7 C831.7 1573.4 829.6 1566.9 827.7 1558.8 C825.8 1550.8 822.6 1540.2 822.5 1532.6 C822.3 1525.0 824.2 1518.7 826.9 1513.3 C829.5 1507.9 833.4 1503.1 838.3 1500.1 C843.1 1497.2 850.4 1496.4 855.8 1495.8 C861.2 1495.2 865.6 1495.3 870.7 1496.6Z" fill="none" stroke="#F8D84A" stroke-width="8" stroke-linejoin="round"/>
<clipPath id="c17"><path d="M823.8 1616.7 C820.3 1619.0 816.4 1621.3 811.7 1623.2 C806.9 1625.1 800.9 1627.4 795.5 1628.1 C790.1 1628.7 785.4 1628.2 779.3 1627.2 C773.2 1626.3 765.0 1623.9 759.1 1622.4 C753.2 1620.9 746.5 1619.0 744.0 1618.4 C741.5 1617.7 744.0 1622.9 744.0 1618.4 C744.0 1613.8 744.0 1599.5 744.0 1590.9 C744.0 1582.2 744.0 1575.1 744.0 1566.6 C744.0 1558.1 744.0 1544.4 744.0 1539.9 C744.0 1535.5 742.8 1541.3 744.0 1539.9 C745.1 1538.6 747.8 1534.5 751.0 1531.8 C754.2 1529.1 758.4 1525.6 763.1 1523.7 C767.9 1521.9 773.7 1520.4 779.3 1520.5 C785.0 1520.6 792.0 1522.1 797.1 1524.6 C802.2 1527.0 806.5 1530.8 810.0 1535.1 C813.5 1539.4 815.6 1544.5 818.1 1550.4 C820.7 1556.4 823.4 1563.9 825.4 1570.6 C827.4 1577.4 829.0 1584.4 830.3 1590.9 C831.5 1597.3 833.8 1605.1 832.7 1609.5 C831.6 1613.8 827.3 1614.4 823.8 1616.7Z"/></clipPath>
<path d="M823.8 1616.7 C820.3 1619.0 816.4 1621.3 811.7 1623.2 C806.9 1625.1 800.9 1627.4 795.5 1628.1 C790.1 1628.7 785.4 1628.2 779.3 1627.2 C773.2 1626.3 765.0 1623.9 759.1 1622.4 C753.2 1620.9 746.5 1619.0 744.0 1618.4 C741.5 1617.7 744.0 1622.9 744.0 1618.4 C744.0 1613.8 744.0 1599.5 744.0 1590.9 C744.0 1582.2 744.0 1575.1 744.0 1566.6 C744.0 1558.1 744.0 1544.4 744.0 1539.9 C744.0 1535.5 742.8 1541.3 744.0 1539.9 C745.1 1538.6 747.8 1534.5 751.0 1531.8 C754.2 1529.1 758.4 1525.6 763.1 1523.7 C767.9 1521.9 773.7 1520.4 779.3 1520.5 C785.0 1520.6 792.0 1522.1 797.1 1524.6 C802.2 1527.0 806.5 1530.8 810.0 1535.1 C813.5 1539.4 815.6 1544.5 818.1 1550.4 C820.7 1556.4 823.4 1563.9 825.4 1570.6 C827.4 1577.4 829.0 1584.4 830.3 1590.9 C831.5 1597.3 833.8 1605.1 832.7 1609.5 C831.6 1613.8 827.3 1614.4 823.8 1616.7Z" fill="#fff"/>
<g clip-path="url(#c17)">
<path d="M712.8 1564.0 L749.0 1547.0 Q781.0 1532.0 814.0 1543.0 L851.9 1555.6 L851.9 1455.6 L712.8 1464.0 Z" fill="#DEDEDE"/>
</g>
<path d="M823.8 1616.7 C820.3 1619.0 816.4 1621.3 811.7 1623.2 C806.9 1625.1 800.9 1627.4 795.5 1628.1 C790.1 1628.7 785.4 1628.2 779.3 1627.2 C773.2 1626.3 765.0 1623.9 759.1 1622.4 C753.2 1620.9 746.5 1619.0 744.0 1618.4 C741.5 1617.7 744.0 1622.9 744.0 1618.4 C744.0 1613.8 744.0 1599.5 744.0 1590.9 C744.0 1582.2 744.0 1575.1 744.0 1566.6 C744.0 1558.1 744.0 1544.4 744.0 1539.9 C744.0 1535.5 742.8 1541.3 744.0 1539.9 C745.1 1538.6 747.8 1534.5 751.0 1531.8 C754.2 1529.1 758.4 1525.6 763.1 1523.7 C767.9 1521.9 773.7 1520.4 779.3 1520.5 C785.0 1520.6 792.0 1522.1 797.1 1524.6 C802.2 1527.0 806.5 1530.8 810.0 1535.1 C813.5 1539.4 815.6 1544.5 818.1 1550.4 C820.7 1556.4 823.4 1563.9 825.4 1570.6 C827.4 1577.4 829.0 1584.4 830.3 1590.9 C831.5 1597.3 833.8 1605.1 832.7 1609.5 C831.6 1613.8 827.3 1614.4 823.8 1616.7Z" fill="none" stroke="#0670A4" stroke-width="8" stroke-linejoin="round"/>
<clipPath id="c18"><path d="M949.4 1450.0 C956.2 1453.1 961.5 1456.4 967.6 1460.0 C973.7 1463.7 981.9 1468.8 985.8 1471.9 C989.7 1474.9 990.7 1474.3 991.3 1478.2 C991.9 1482.2 991.1 1489.4 989.4 1495.5 C987.8 1501.6 984.9 1509.2 981.3 1514.6 C977.6 1520.1 973.7 1523.9 967.6 1528.3 C961.5 1532.7 951.7 1537.8 944.9 1541.0 C938.0 1544.2 931.2 1548.1 926.7 1547.4 C922.1 1546.6 921.3 1540.9 917.6 1536.5 C913.8 1532.1 908.5 1526.6 903.9 1521.0 C899.4 1515.4 893.3 1508.9 890.3 1502.8 C887.2 1496.7 886.3 1490.7 885.7 1484.6 C885.1 1478.5 885.1 1471.7 886.6 1466.4 C888.1 1461.1 891.2 1456.4 894.8 1452.7 C898.4 1449.1 903.2 1446.4 908.5 1444.6 C913.8 1442.7 919.8 1440.9 926.7 1441.8 C933.5 1442.7 942.6 1447.0 949.4 1450.0Z"/></clipPath>
<path d="M949.4 1450.0 C956.2 1453.1 961.5 1456.4 967.6 1460.0 C973.7 1463.7 981.9 1468.8 985.8 1471.9 C989.7 1474.9 990.7 1474.3 991.3 1478.2 C991.9 1482.2 991.1 1489.4 989.4 1495.5 C987.8 1501.6 984.9 1509.2 981.3 1514.6 C977.6 1520.1 973.7 1523.9 967.6 1528.3 C961.5 1532.7 951.7 1537.8 944.9 1541.0 C938.0 1544.2 931.2 1548.1 926.7 1547.4 C922.1 1546.6 921.3 1540.9 917.6 1536.5 C913.8 1532.1 908.5 1526.6 903.9 1521.0 C899.4 1515.4 893.3 1508.9 890.3 1502.8 C887.2 1496.7 886.3 1490.7 885.7 1484.6 C885.1 1478.5 885.1 1471.7 886.6 1466.4 C888.1 1461.1 891.2 1456.4 894.8 1452.7 C898.4 1449.1 903.2 1446.4 908.5 1444.6 C913.8 1442.7 919.8 1440.9 926.7 1441.8 C933.5 1442.7 942.6 1447.0 949.4 1450.0Z" fill="#fff"/>
<g clip-path="url(#c18)">
<path d="M859.4 1510.6 L891.2 1486.4 Q944.4 1445.9 981.3 1472.8 L1013.6 1496.4 L1013.6 1396.4 L859.4 1410.6 Z" fill="#DEDEDE"/>
</g>
<path d="M949.4 1450.0 C956.2 1453.1 961.5 1456.4 967.6 1460.0 C973.7 1463.7 981.9 1468.8 985.8 1471.9 C989.7 1474.9 990.7 1474.3 991.3 1478.2 C991.9 1482.2 991.1 1489.4 989.4 1495.5 C987.8 1501.6 984.9 1509.2 981.3 1514.6 C977.6 1520.1 973.7 1523.9 967.6 1528.3 C961.5 1532.7 951.7 1537.8 944.9 1541.0 C938.0 1544.2 931.2 1548.1 926.7 1547.4 C922.1 1546.6 921.3 1540.9 917.6 1536.5 C913.8 1532.1 908.5 1526.6 903.9 1521.0 C899.4 1515.4 893.3 1508.9 890.3 1502.8 C887.2 1496.7 886.3 1490.7 885.7 1484.6 C885.1 1478.5 885.1 1471.7 886.6 1466.4 C888.1 1461.1 891.2 1456.4 894.8 1452.7 C898.4 1449.1 903.2 1446.4 908.5 1444.6 C913.8 1442.7 919.8 1440.9 926.7 1441.8 C933.5 1442.7 942.6 1447.0 949.4 1450.0Z" fill="none" stroke="#6AAF44" stroke-width="8" stroke-linejoin="round"/>
<clipPath id="c19"><path d="M1038.0 1252.5 C1038.9 1259.1 1040.0 1268.2 1040.8 1276.0 C1041.6 1283.9 1042.7 1292.5 1042.7 1299.6 C1042.7 1306.7 1042.8 1313.0 1040.8 1318.5 C1038.7 1324.0 1035.3 1328.6 1030.4 1332.6 C1025.5 1336.7 1018.6 1340.8 1011.5 1343.0 C1004.5 1345.2 995.8 1346.3 988.0 1345.8 C980.1 1345.4 971.5 1343.5 964.4 1340.2 C957.3 1336.9 950.4 1331.2 945.5 1326.0 C940.6 1320.8 937.5 1315.8 935.1 1309.1 C932.8 1302.3 931.4 1293.3 931.4 1285.5 C931.4 1277.6 932.8 1268.8 935.1 1261.9 C937.5 1255.0 941.4 1248.8 945.5 1244.0 C949.6 1239.1 954.2 1235.6 959.7 1232.6 C965.2 1229.7 971.5 1227.7 978.5 1226.0 C985.6 1224.4 995.0 1223.1 1002.1 1222.7 C1009.2 1222.4 1015.5 1221.9 1021.0 1224.2 C1026.5 1226.4 1032.3 1231.7 1035.1 1236.4 C1038.0 1241.1 1037.0 1245.8 1038.0 1252.5Z"/></clipPath>
<path d="M1038.0 1252.5 C1038.9 1259.1 1040.0 1268.2 1040.8 1276.0 C1041.6 1283.9 1042.7 1292.5 1042.7 1299.6 C1042.7 1306.7 1042.8 1313.0 1040.8 1318.5 C1038.7 1324.0 1035.3 1328.6 1030.4 1332.6 C1025.5 1336.7 1018.6 1340.8 1011.5 1343.0 C1004.5 1345.2 995.8 1346.3 988.0 1345.8 C980.1 1345.4 971.5 1343.5 964.4 1340.2 C957.3 1336.9 950.4 1331.2 945.5 1326.0 C940.6 1320.8 937.5 1315.8 935.1 1309.1 C932.8 1302.3 931.4 1293.3 931.4 1285.5 C931.4 1277.6 932.8 1268.8 935.1 1261.9 C937.5 1255.0 941.4 1248.8 945.5 1244.0 C949.6 1239.1 954.2 1235.6 959.7 1232.6 C965.2 1229.7 971.5 1227.7 978.5 1226.0 C985.6 1224.4 995.0 1223.1 1002.1 1222.7 C1009.2 1222.4 1015.5 1221.9 1021.0 1224.2 C1026.5 1226.4 1032.3 1231.7 1035.1 1236.4 C1038.0 1241.1 1037.0 1245.8 1038.0 1252.5Z" fill="#fff"/>
<g clip-path="url(#c19)">
<path d="M968.4 1362.0 L958.7 1323.2 Q945.5 1270.4 966.3 1240.2 L989.0 1207.3 L889.0 1207.3 L868.4 1362.0 Z" fill="#DEDEDE"/>
<path d="M1013.4 1266.6 C1013.2 1268.0 1009.9 1274.5 1009.7 1276.0 C1009.4 1277.5 1009.8 1283.5 1010.6 1284.5 C1011.4 1285.6 1019.1 1287.8 1019.1 1288.3 C1019.1 1288.8 1011.6 1289.6 1010.6 1290.2 C1009.6 1290.7 1007.9 1294.7 1006.8 1294.9 C1005.7 1295.1 998.3 1294.6 997.4 1293.0 C996.5 1291.4 996.9 1278.4 996.5 1276.0 C996.0 1273.7 991.5 1266.4 991.7 1264.7 C992.0 1263.1 998.0 1257.2 999.3 1256.2 C1000.5 1255.3 1005.7 1253.2 1006.8 1253.4 C1007.9 1253.6 1011.9 1258.0 1012.5 1259.1 C1013.0 1260.2 1013.7 1265.2 1013.4 1266.6Z" fill="#DEDEDE"/>
</g>
<path d="M1038.0 1252.5 C1038.9 1259.1 1040.0 1268.2 1040.8 1276.0 C1041.6 1283.9 1042.7 1292.5 1042.7 1299.6 C1042.7 1306.7 1042.8 1313.0 1040.8 1318.5 C1038.7 1324.0 1035.3 1328.6 1030.4 1332.6 C1025.5 1336.7 1018.6 1340.8 1011.5 1343.0 C1004.5 1345.2 995.8 1346.3 988.0 1345.8 C980.1 1345.4 971.5 1343.5 964.4 1340.2 C957.3 1336.9 950.4 1331.2 945.5 1326.0 C940.6 1320.8 937.5 1315.8 935.1 1309.1 C932.8 1302.3 931.4 1293.3 931.4 1285.5 C931.4 1277.6 932.8 1268.8 935.1 1261.9 C937.5 1255.0 941.4 1248.8 945.5 1244.0 C949.6 1239.1 954.2 1235.6 959.7 1232.6 C965.2 1229.7 971.5 1227.7 978.5 1226.0 C985.6 1224.4 995.0 1223.1 1002.1 1222.7 C1009.2 1222.4 1015.5 1221.9 1021.0 1224.2 C1026.5 1226.4 1032.3 1231.7 1035.1 1236.4 C1038.0 1241.1 1037.0 1245.8 1038.0 1252.5Z" fill="none" stroke="#EC130D" stroke-width="8" stroke-linejoin="round"/>
<clipPath id="c20"><path d="M1025.4 1355.1 C1029.0 1358.1 1031.9 1363.0 1033.0 1368.3 C1034.1 1373.6 1033.0 1380.1 1032.0 1387.2 C1031.1 1394.2 1028.9 1402.9 1027.3 1410.8 C1025.7 1418.6 1024.6 1427.6 1022.6 1434.3 C1020.5 1441.1 1018.5 1446.9 1015.0 1451.3 C1011.6 1455.7 1007.2 1459.0 1001.8 1460.8 C996.5 1462.5 989.3 1462.3 983.0 1461.7 C976.7 1461.1 970.4 1459.5 964.1 1457.0 C957.8 1454.5 950.7 1451.2 945.2 1446.6 C939.7 1442.0 934.4 1435.6 931.1 1429.6 C927.8 1423.6 926.4 1417.0 925.4 1410.8 C924.5 1404.5 924.2 1398.2 925.4 1391.9 C926.7 1385.6 929.7 1378.7 933.0 1373.0 C936.3 1367.4 940.0 1362.0 945.2 1357.9 C950.4 1353.8 957.0 1350.2 964.1 1348.5 C971.2 1346.8 979.8 1347.2 987.7 1347.5 C995.5 1347.9 1005.0 1349.1 1011.3 1350.4 C1017.6 1351.6 1021.8 1352.1 1025.4 1355.1Z"/></clipPath>
<path d="M1025.4 1355.1 C1029.0 1358.1 1031.9 1363.0 1033.0 1368.3 C1034.1 1373.6 1033.0 1380.1 1032.0 1387.2 C1031.1 1394.2 1028.9 1402.9 1027.3 1410.8 C1025.7 1418.6 1024.6 1427.6 1022.6 1434.3 C1020.5 1441.1 1018.5 1446.9 1015.0 1451.3 C1011.6 1455.7 1007.2 1459.0 1001.8 1460.8 C996.5 1462.5 989.3 1462.3 983.0 1461.7 C976.7 1461.1 970.4 1459.5 964.1 1457.0 C957.8 1454.5 950.7 1451.2 945.2 1446.6 C939.7 1442.0 934.4 1435.6 931.1 1429.6 C927.8 1423.6 926.4 1417.0 925.4 1410.8 C924.5 1404.5 924.2 1398.2 925.4 1391.9 C926.7 1385.6 929.7 1378.7 933.0 1373.0 C936.3 1367.4 940.0 1362.0 945.2 1357.9 C950.4 1353.8 957.0 1350.2 964.1 1348.5 C971.2 1346.8 979.8 1347.2 987.7 1347.5 C995.5 1347.9 1005.0 1349.1 1011.3 1350.4 C1017.6 1351.6 1021.8 1352.1 1025.4 1355.1Z" fill="#fff"/>
<g clip-path="url(#c20)">
<path d="M952.7 1463.1 L940.5 1425.0 Q931.5 1397.0 973.5 1351.3 L1000.6 1321.8 L900.6 1301.8 L852.7 1443.1 Z" fill="#DEDEDE"/>
<path d="M1006.5 1384.3 C1005.6 1385.4 998.1 1390.3 996.2 1392.8 C994.2 1395.3 984.8 1411.5 983.0 1414.5 C981.2 1417.6 974.3 1428.1 974.5 1429.6 C974.6 1431.1 982.7 1433.3 984.8 1432.5 C987.0 1431.6 997.7 1420.4 999.9 1419.2 C1002.1 1418.1 1010.9 1418.8 1011.3 1418.3 C1011.6 1417.8 1005.0 1414.6 1003.7 1413.6 C1002.5 1412.6 997.0 1407.3 996.2 1406.0 C995.4 1404.8 994.9 1399.7 994.3 1398.5 C993.7 1397.2 989.1 1392.1 988.6 1390.9 C988.2 1389.8 987.7 1385.5 988.6 1384.3 C989.6 1383.2 998.4 1377.2 999.9 1376.8 C1001.5 1376.4 1006.9 1379.0 1007.5 1379.6 C1008.0 1380.3 1007.5 1383.2 1006.5 1384.3Z" fill="#DEDEDE"/>
</g>
<path d="M1025.4 1355.1 C1029.0 1358.1 1031.9 1363.0 1033.0 1368.3 C1034.1 1373.6 1033.0 1380.1 1032.0 1387.2 C1031.1 1394.2 1028.9 1402.9 1027.3 1410.8 C1025.7 1418.6 1024.6 1427.6 1022.6 1434.3 C1020.5 1441.1 1018.5 1446.9 1015.0 1451.3 C1011.6 1455.7 1007.2 1459.0 1001.8 1460.8 C996.5 1462.5 989.3 1462.3 983.0 1461.7 C976.7 1461.1 970.4 1459.5 964.1 1457.0 C957.8 1454.5 950.7 1451.2 945.2 1446.6 C939.7 1442.0 934.4 1435.6 931.1 1429.6 C927.8 1423.6 926.4 1417.0 925.4 1410.8 C924.5 1404.5 924.2 1398.2 925.4 1391.9 C926.7 1385.6 929.7 1378.7 933.0 1373.0 C936.3 1367.4 940.0 1362.0 945.2 1357.9 C950.4 1353.8 957.0 1350.2 964.1 1348.5 C971.2 1346.8 979.8 1347.2 987.7 1347.5 C995.5 1347.9 1005.0 1349.1 1011.3 1350.4 C1017.6 1351.6 1021.8 1352.1 1025.4 1355.1Z" fill="none" stroke="#F88A1F" stroke-width="8" stroke-linejoin="round"/>
<polyline points="379,1305.3 483,1305.3" fill="none" stroke="#000" stroke-width="3"/>
<circle cx="483" cy="1305.3" r="9.2" fill="#000"/>
<polyline points="379,1405.5 492.8,1405.5" fill="none" stroke="#000" stroke-width="3"/>
<circle cx="492.8" cy="1405.5" r="9.2" fill="#000"/>
<polyline points="379,1496 532.2,1496" fill="none" stroke="#000" stroke-width="3"/>
<circle cx="532.2" cy="1496" r="9.2" fill="#000"/>
<polyline points="379,1563 599.5,1563" fill="none" stroke="#000" stroke-width="3"/>
<circle cx="599.5" cy="1563" r="9.2" fill="#000"/>
<polyline points="379,1639.5 691.2,1639.5 691.2,1595" fill="none" stroke="#000" stroke-width="3"/>
<circle cx="692" cy="1595.3" r="9.2" fill="#000"/>
<polyline points="1103,1305.3 999.5,1305.3" fill="none" stroke="#000" stroke-width="3"/>
<circle cx="999.5" cy="1307" r="9.2" fill="#000"/>
<polyline points="1103,1405.5 990,1405.5" fill="none" stroke="#000" stroke-width="3"/>
<circle cx="990" cy="1405.5" r="9.2" fill="#000"/>
<polyline points="1103,1497 950.5,1497" fill="none" stroke="#000" stroke-width="3"/>
<circle cx="950.5" cy="1497" r="9.2" fill="#000"/>
<polyline points="1103,1562 884,1562" fill="none" stroke="#000" stroke-width="3"/>
<circle cx="884" cy="1562.5" r="9.2" fill="#000"/>
<polyline points="1103,1639.5 791.5,1639.5 791.5,1595" fill="none" stroke="#000" stroke-width="3"/>
<circle cx="791" cy="1595.3" r="9.2" fill="#000"/>
<g><text transform="translate(683.37 1367.40) scale(0.6333 1.0053)" font-family="Liberation Sans" font-weight="bold" font-size="48" fill="#0a0a0a" stroke="#0a0a0a" stroke-width="2" stroke-linejoin="round">L</text><text transform="translate(703.15 1367.40) scale(0.7743 0.9215)" font-family="Liberation Sans" font-weight="bold" font-size="48" fill="#0a0a0a" stroke="#0a0a0a" stroke-width="2" stroke-linejoin="round">o</text><text transform="translate(728.32 1367.40) scale(0.8704 0.9385)" font-family="Liberation Sans" font-weight="bold" font-size="48" fill="#0a0a0a" stroke="#0a0a0a" stroke-width="2" stroke-linejoin="round">w</text><text transform="translate(761.81 1367.40) scale(0.7420 0.9215)" font-family="Liberation Sans" font-weight="bold" font-size="48" fill="#0a0a0a" stroke="#0a0a0a" stroke-width="2" stroke-linejoin="round">e</text><text transform="translate(781.20 1367.40) scale(0.7911 0.9206)" font-family="Liberation Sans" font-weight="bold" font-size="48" fill="#0a0a0a" stroke="#0a0a0a" stroke-width="2" stroke-linejoin="round">r</text></g>
<text x="105.6" y="1314.5" font-family="Liberation Sans" font-size="28.5" font-weight="normal" fill="#111" text-anchor="start" textLength="268.4" lengthAdjust="spacingAndGlyphs" >Second Molar (25-33)</text>
<text x="141" y="1414.8" font-family="Liberation Sans" font-size="28.5" font-weight="normal" fill="#111" text-anchor="start" textLength="233" lengthAdjust="spacingAndGlyphs" >First Molar (13-19)</text>
<text x="92" y="1505" font-family="Liberation Sans" font-size="28.5" font-weight="normal" fill="#111" text-anchor="start" textLength="282" lengthAdjust="spacingAndGlyphs" >Canine/Cuspid (16-22)</text>
<text x="119.6" y="1572.6" font-family="Liberation Sans" font-size="28.5" font-weight="normal" fill="#111" text-anchor="start" textLength="254.4" lengthAdjust="spacingAndGlyphs" >Lateral Incisor (9-13)</text>
<text x="113.6" y="1646.6" font-family="Liberation Sans" font-size="28.5" font-weight="normal" fill="#111" text-anchor="start" textLength="260.4" lengthAdjust="spacingAndGlyphs" >Central Incisor (8-12)</text>
<text x="1111.4" y="1314.5" font-family="Liberation Sans" font-size="28.5" font-weight="normal" fill="#111" text-anchor="start" textLength="268.39999999999986" lengthAdjust="spacingAndGlyphs" >Second Molar (10-12)</text>
<text x="1111.4" y="1414.8" font-family="Liberation Sans" font-size="28.5" font-weight="normal" fill="#111" text-anchor="start" textLength="216.5999999999999" lengthAdjust="spacingAndGlyphs" >First Molar (9-11)</text>
<text x="1111.4" y="1505" font-family="Liberation Sans" font-size="28.5" font-weight="normal" fill="#111" text-anchor="start" textLength="281.5999999999999" lengthAdjust="spacingAndGlyphs" >Canine/Cuspid (10-12)</text>
<text x="1111.4" y="1572.6" font-family="Liberation Sans" font-size="28.5" font-weight="normal" fill="#111" text-anchor="start" textLength="239.0" lengthAdjust="spacingAndGlyphs" >Lateral Incisor (7-8)</text>
<text x="1111.4" y="1646.6" font-family="Liberation Sans" font-size="28.5" font-weight="normal" fill="#111" text-anchor="start" textLength="244.39999999999986" lengthAdjust="spacingAndGlyphs" >Central Incisor (6-7)</text>
<text x="357.2" y="1770.7" font-family="Liberation Serif" font-size="27" font-weight="normal" fill="#161616" text-anchor="start" textLength="771" lengthAdjust="spacingAndGlyphs" stroke="#161616" stroke-width="0.6">Dr. Lisa M. Spier DDS, D.ABDSM and Dr. Kellie Roseberg DDS</text>
<text x="503.4" y="1824.9" font-family="Liberation Sans" font-size="23.5" font-weight="normal" fill="#1a1a1a" text-anchor="start" textLength="455" lengthAdjust="spacingAndGlyphs" >763.682.2572 &#8226; info@dr2thofbuffalo.com</text>
<text x="483" y="1852.2" font-family="Liberation Sans" font-size="23.5" font-weight="normal" fill="#1a1a1a" text-anchor="start" textLength="519" lengthAdjust="spacingAndGlyphs" >306 Brighton Avenue South, Buffalo, MN 55313</text>
</svg></body></html>
